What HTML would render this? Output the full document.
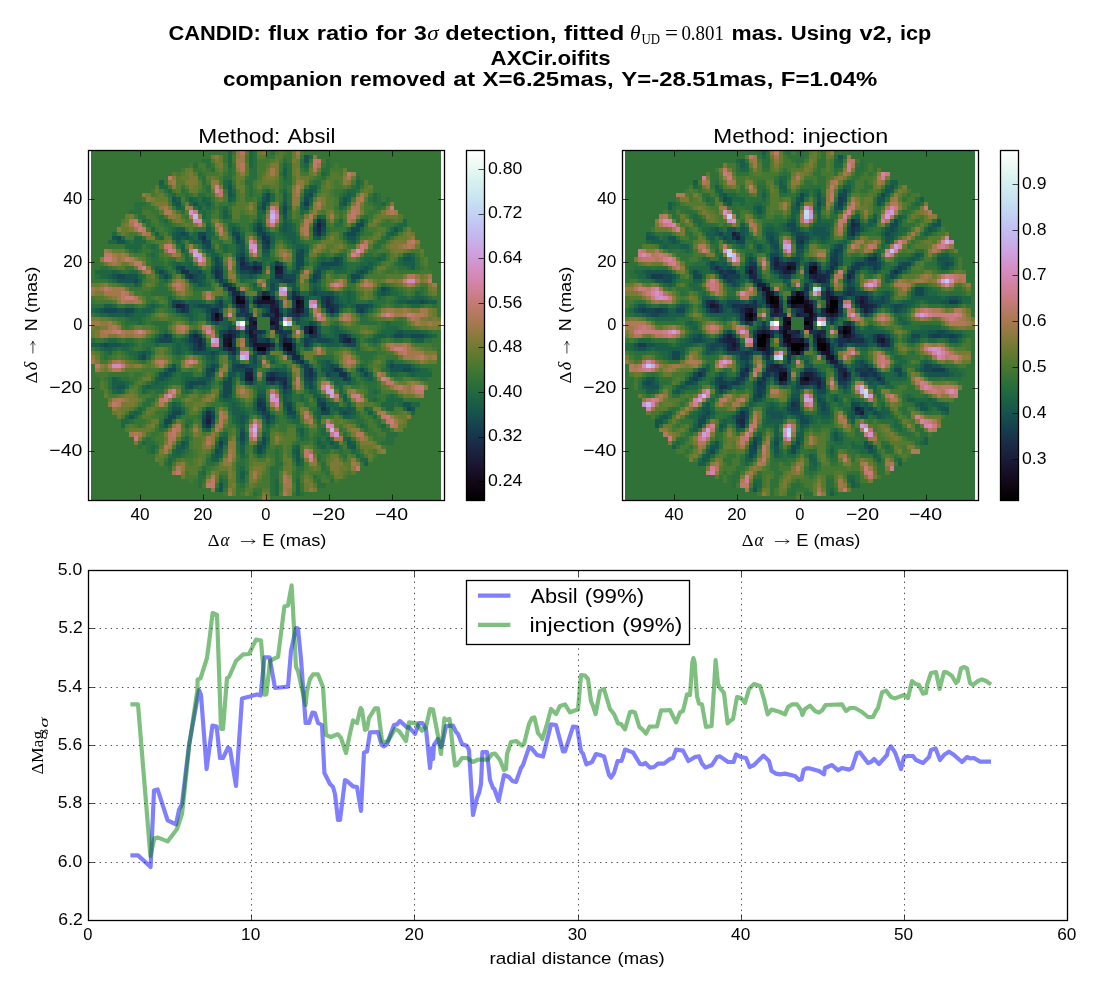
<!DOCTYPE html>
<html><head><meta charset="utf-8"><title>CANDID detection limit</title>
<style>html,body{margin:0;padding:0;background:#fff;overflow:hidden}svg{display:block;filter:opacity(1)}text{font-family:"Liberation Sans",sans-serif;fill:#000}.se{font-family:"Liberation Serif",serif}</style>
</head><body>
<svg width="1100" height="1000" viewBox="0 0 1100 1000">
<rect width="1100" height="1000" fill="#fff"/>
<!-- suptitle -->
<g id="suptitle">
<text y="39.70" font-size="20.31" font-weight="bold"><tspan x="168.43" textLength="92.35" lengthAdjust="spacingAndGlyphs">CANDID:</tspan> <tspan x="268.37" textLength="40.83" lengthAdjust="spacingAndGlyphs">flux</tspan> <tspan x="316.79" textLength="51.38" lengthAdjust="spacingAndGlyphs">ratio</tspan> <tspan x="375.75" textLength="30.70" lengthAdjust="spacingAndGlyphs">for</tspan> <tspan x="414.04" textLength="12.77" lengthAdjust="spacingAndGlyphs">3</tspan></text>
<text x="427.20" y="39.70" font-size="21.00" textLength="11.40" lengthAdjust="spacingAndGlyphs" class="se" font-style="italic">σ</text>
<text y="39.70" font-size="20.31" font-weight="bold"><tspan x="445.33" textLength="111.18" lengthAdjust="spacingAndGlyphs">detection,</tspan> <tspan x="564.10" textLength="60.19" lengthAdjust="spacingAndGlyphs">fitted</tspan></text>
<text x="630.00" y="39.70" font-size="21.50" textLength="10.50" lengthAdjust="spacingAndGlyphs" class="se" font-style="italic">θ</text>
<text x="641.40" y="43.80" font-size="14.20" textLength="18.60" lengthAdjust="spacingAndGlyphs" class="se">UD</text>
<text x="665.00" y="39.70" font-size="21.00" textLength="13.00" lengthAdjust="spacingAndGlyphs" class="se">=</text>
<text x="681.40" y="39.70" font-size="20.50" textLength="42.60" lengthAdjust="spacingAndGlyphs" class="se">0.801</text>
<text y="39.70" font-size="20.32" font-weight="bold"><tspan x="731.48" textLength="51.69" lengthAdjust="spacingAndGlyphs">mas.</tspan> <tspan x="790.76" textLength="61.17" lengthAdjust="spacingAndGlyphs">Using</tspan> <tspan x="859.51" textLength="32.89" lengthAdjust="spacingAndGlyphs">v2,</tspan> <tspan x="899.99" textLength="31.40" lengthAdjust="spacingAndGlyphs">icp</tspan></text>
<text x="490.61" y="64.60" font-size="20.31" font-weight="bold" textLength="120.02" lengthAdjust="spacingAndGlyphs">AXCir.oifits</text>
<text y="86.30" font-size="20.32" font-weight="bold"><tspan x="223.06" textLength="119.44" lengthAdjust="spacingAndGlyphs">companion</tspan> <tspan x="350.09" textLength="95.65" lengthAdjust="spacingAndGlyphs">removed</tspan> <tspan x="453.33" textLength="21.68" lengthAdjust="spacingAndGlyphs">at</tspan> <tspan x="482.60" textLength="131.18" lengthAdjust="spacingAndGlyphs">X=6.25mas,</tspan> <tspan x="621.36" textLength="151.92" lengthAdjust="spacingAndGlyphs">Y=-28.51mas,</tspan> <tspan x="780.88" textLength="96.51" lengthAdjust="spacingAndGlyphs">F=1.04%</tspan></text>
</g>
<g transform="translate(91,150.5) scale(4.26829)" shape-rendering="crispEdges" fill="none" stroke-width="1.02">
<rect x="0" y="0" width="82" height="82" fill="#357435" stroke="none"/>
<path stroke="#0a030a" d="M40 34.5h2M39 46.5h2"/>
<path stroke="#110815" d="M34 34.5h1M34 35.5h2M48 35.5h1M29 38.5h1M51 42.5h1M32 45.5h1M45 45.5h2M46 46.5h1"/>
<path stroke="#170e23" d="M48 36.5h1M29 39.5h1M38 40.5h1M42 40.5h1M51 41.5h1M32 44.5h1"/>
<path stroke="#1a142f" d="M43 27.5h1M35 34.5h1M39 35.5h4M49 35.5h1M49 36.5h1M43 37.5h1M48 37.5h1M43 38.5h1M37 42.5h1M32 43.5h1M37 43.5h1M31 44.5h1M31 45.5h1M38 45.5h4M45 46.5h1M37 53.5h1"/>
<path stroke="#1b1e3b" d="M53 17.5h1M38 27.5h1M44 27.5h1M43 28.5h2M48 34.5h1M20 36.5h1M35 36.5h1M42 36.5h1M42 37.5h1M49 37.5h1M37 39.5h1M42 39.5h2M37 40.5h1M43 40.5h1M37 41.5h2M43 41.5h1M31 43.5h1M38 43.5h1M38 44.5h1M45 44.5h1M60 44.5h1M32 46.5h1M36 52.5h2M36 53.5h1M42 53.5h1M27 63.5h1"/>
<path stroke="#1a2744" d="M53 18.5h1M35 26.5h1M39 27.5h1M32 32.5h2M33 33.5h2M40 33.5h1M39 34.5h1M42 34.5h1M47 34.5h1M38 35.5h1M55 35.5h1M21 36.5h1M34 36.5h1M43 36.5h1M55 36.5h1M47 37.5h1M56 37.5h1M28 38.5h1M30 38.5h1M48 38.5h1M28 39.5h1M30 39.5h1M50 41.5h1M52 41.5h1M32 42.5h1M50 42.5h1M52 42.5h1M24 43.5h1M33 43.5h1M25 44.5h1M37 44.5h1M46 44.5h1M59 44.5h1M25 45.5h1M42 45.5h1M33 46.5h1M38 46.5h1M41 46.5h1M40 47.5h1M46 47.5h2M47 48.5h2M41 53.5h1M45 54.5h1M27 62.5h1"/>
<path stroke="#18314a" d="M53 16.5h1M53 19.5h1M26 20.5h1M40 20.5h1M41 21.5h1M35 25.5h1M35 27.5h3M21 28.5h2M29 28.5h1M38 28.5h1M23 29.5h1M29 29.5h1M43 29.5h2M31 31.5h1M41 33.5h1M47 33.5h1M33 34.5h1M49 34.5h1M55 34.5h1M33 35.5h1M43 35.5h1M39 36.5h1M56 36.5h1M21 37.5h1M28 37.5h2M35 37.5h1M36 38.5h1M41 38.5h2M44 38.5h1M47 38.5h1M38 39.5h1M42 41.5h1M33 42.5h1M36 42.5h1M38 42.5h2M44 42.5h1M45 43.5h1M51 43.5h2M59 43.5h1M24 44.5h1M41 44.5h1M37 45.5h1M47 45.5h1M25 46.5h1M31 46.5h1M47 46.5h1M33 47.5h1M39 47.5h1M49 49.5h1M36 51.5h2M51 51.5h1M57 51.5h1M42 52.5h1M51 52.5h1M58 52.5h2M43 53.5h3M45 55.5h1M39 59.5h1M40 60.5h1M54 60.5h1M27 61.5h1M27 64.5h1"/>
<path stroke="#163d4e" d="M50 12.5h1M54 17.5h1M39 18.5h1M52 18.5h1M40 19.5h1M34 20.5h1M41 20.5h1M26 21.5h1M40 21.5h1M41 22.5h1M36 26.5h1M38 26.5h1M43 26.5h1M21 27.5h1M29 27.5h1M30 28.5h1M37 28.5h1M39 28.5h1M22 29.5h1M30 29.5h1M52 29.5h1M30 30.5h1M45 30.5h2M32 31.5h1M54 34.5h1M56 34.5h1M30 35.5h1M36 35.5h1M47 35.5h1M54 35.5h1M56 35.5h1M19 36.5h1M22 36.5h1M30 36.5h1M36 36.5h1M40 36.5h2M47 36.5h1M57 36.5h1M22 37.5h1M36 37.5h1M55 37.5h1M57 37.5h1M63 37.5h1M34 38.5h2M37 38.5h1M40 38.5h1M46 38.5h1M49 38.5h1M31 42.5h1M34 42.5h1M40 42.5h1M43 42.5h1M45 42.5h2M17 43.5h1M23 43.5h1M25 43.5h1M44 43.5h1M58 43.5h1M23 44.5h1M33 44.5h1M39 44.5h2M44 44.5h1M50 44.5h1M58 44.5h1M61 44.5h1M24 45.5h1M26 45.5h1M33 45.5h1M44 45.5h1M50 45.5h1M24 46.5h1M26 46.5h1M48 49.5h1M34 50.5h2M50 50.5h1M28 51.5h1M50 51.5h1M58 51.5h1M41 52.5h1M43 52.5h1M50 52.5h1M51 53.5h1M59 53.5h1M37 54.5h1M42 54.5h1M44 54.5h1M39 58.5h1M40 59.5h1M54 59.5h1M39 60.5h1M46 60.5h1M40 61.5h1M28 62.5h1M41 62.5h1M26 63.5h1M30 68.5h1"/>
<path stroke="#15474e" d="M41 10.5h1M51 10.5h1M41 11.5h1M50 11.5h1M40 12.5h1M40 13.5h1M45 13.5h1M45 14.5h1M54 16.5h1M39 17.5h1M52 17.5h1M62 17.5h2M54 18.5h1M61 18.5h2M21 19.5h1M25 19.5h2M33 19.5h2M39 19.5h1M52 19.5h1M60 19.5h2M6 20.5h1M25 20.5h1M27 21.5h1M34 21.5h1M27 22.5h1M40 22.5h1M49 23.5h1M35 24.5h1M48 24.5h2M29 25.5h1M34 25.5h1M48 25.5h2M57 25.5h1M29 26.5h1M39 26.5h1M44 26.5h1M48 26.5h2M54 26.5h4M20 27.5h1M30 27.5h1M48 27.5h1M16 28.5h1M25 28.5h1M28 28.5h1M35 28.5h2M53 28.5h1M63 28.5h1M6 29.5h2M17 29.5h1M24 29.5h1M45 29.5h3M53 29.5h1M61 29.5h2M10 30.5h1M24 30.5h1M44 30.5h1M47 30.5h1M52 30.5h1M42 31.5h1M42 32.5h1M68 32.5h1M48 33.5h1M52 33.5h1M38 34.5h1M19 35.5h2M77 35.5h1M25 36.5h3M29 36.5h1M54 36.5h1M62 36.5h3M3 37.5h3M8 37.5h2M20 37.5h1M27 37.5h1M41 37.5h1M44 37.5h1M46 37.5h1M50 37.5h1M62 37.5h1M50 38.5h1M36 39.5h1M44 39.5h1M48 39.5h1M29 40.5h1M51 40.5h1M32 41.5h1M36 41.5h1M44 41.5h1M30 42.5h1M18 43.5h1M30 43.5h1M34 43.5h1M36 43.5h1M39 43.5h1M53 43.5h1M60 43.5h1M71 43.5h2M75 43.5h3M16 44.5h3M26 44.5h1M51 44.5h1M53 44.5h3M3 45.5h1M60 45.5h2M42 46.5h1M28 47.5h1M32 47.5h1M12 48.5h1M38 48.5h1M38 49.5h1M28 50.5h1M33 50.5h1M36 50.5h1M56 50.5h1M70 50.5h1M18 51.5h2M27 51.5h1M33 51.5h3M56 51.5h1M63 51.5h1M73 51.5h2M17 52.5h1M27 52.5h1M44 52.5h2M52 52.5h1M55 52.5h1M64 52.5h1M32 53.5h1M50 53.5h1M60 53.5h1M23 54.5h4M31 54.5h2M36 54.5h1M41 54.5h1M51 54.5h1M23 55.5h1M31 55.5h2M46 55.5h1M51 55.5h1M31 56.5h2M45 56.5h1M31 57.5h1M40 58.5h1M53 58.5h1M46 59.5h1M53 59.5h1M55 60.5h1M74 60.5h1M19 61.5h2M28 61.5h1M41 61.5h1M46 61.5h2M54 61.5h2M59 61.5h1M18 62.5h2M26 62.5h1M17 63.5h2M28 63.5h1M41 63.5h1M26 64.5h1M35 66.5h1M35 67.5h1M40 67.5h1M40 68.5h1M30 69.5h1M39 69.5h1M29 70.5h1M39 70.5h1"/>
<path stroke="#16534c" d="M50 1.5h1M50 2.5h1M32 8.5h1M32 9.5h1M51 9.5h1M32 10.5h1M50 10.5h1M19 11.5h1M40 11.5h1M59 11.5h1M20 12.5h1M24 12.5h1M45 12.5h1M59 12.5h1M50 13.5h1M45 15.5h1M63 16.5h1M45 17.5h1M33 18.5h1M38 18.5h1M40 18.5h1M45 18.5h1M71 18.5h1M20 19.5h1M22 19.5h1M41 19.5h1M54 19.5h1M5 20.5h1M20 20.5h1M22 20.5h1M53 20.5h1M60 20.5h2M6 21.5h2M35 21.5h1M26 22.5h1M35 22.5h1M35 23.5h1M40 23.5h2M48 23.5h1M34 24.5h1M36 25.5h1M58 25.5h1M73 25.5h2M30 26.5h1M34 26.5h1M37 26.5h1M58 26.5h1M28 27.5h1M34 27.5h1M42 27.5h1M45 27.5h1M53 27.5h3M64 27.5h1M23 28.5h2M45 28.5h1M47 28.5h2M52 28.5h1M62 28.5h1M64 28.5h1M5 29.5h1M8 29.5h3M25 29.5h2M37 29.5h1M6 30.5h4M23 30.5h1M25 30.5h1M31 30.5h1M42 30.5h2M51 30.5h1M61 30.5h1M25 31.5h1M47 31.5h1M47 32.5h1M52 32.5h1M69 32.5h1M32 33.5h1M35 33.5h1M39 33.5h1M42 33.5h1M51 33.5h1M53 33.5h4M68 33.5h1M36 34.5h1M46 34.5h1M50 34.5h1M57 34.5h1M21 35.5h1M29 35.5h1M57 35.5h1M74 35.5h3M78 35.5h1M24 36.5h1M28 36.5h1M33 36.5h1M58 36.5h1M65 36.5h1M2 37.5h1M6 37.5h2M30 37.5h1M34 37.5h1M64 37.5h1M8 38.5h1M27 38.5h1M56 38.5h1M27 39.5h1M47 39.5h1M28 40.5h1M32 40.5h1M48 40.5h1M52 40.5h1M33 41.5h1M53 41.5h1M24 42.5h1M53 42.5h1M72 42.5h1M16 43.5h1M46 43.5h1M50 43.5h1M73 43.5h2M78 43.5h1M15 44.5h1M22 44.5h1M47 44.5h1M52 44.5h1M56 44.5h1M2 45.5h1M4 45.5h3M23 45.5h1M51 45.5h1M59 45.5h1M23 46.5h1M30 46.5h1M34 46.5h1M44 46.5h1M12 47.5h1M24 47.5h4M29 47.5h1M38 47.5h1M41 47.5h1M45 47.5h1M48 47.5h1M11 48.5h1M28 48.5h1M33 48.5h1M33 49.5h1M55 49.5h1M19 50.5h1M29 50.5h1M37 50.5h2M49 50.5h1M55 50.5h1M57 50.5h1M71 50.5h4M43 51.5h1M54 51.5h2M70 51.5h3M75 51.5h1M16 52.5h1M18 52.5h1M28 52.5h1M32 52.5h2M35 52.5h1M56 52.5h2M16 53.5h1M25 53.5h3M35 53.5h1M38 53.5h1M46 53.5h1M52 53.5h1M22 54.5h1M43 54.5h1M46 54.5h1M50 54.5h1M6 55.5h2M22 55.5h1M44 55.5h1M46 56.5h1M32 57.5h1M39 57.5h2M45 57.5h1M45 58.5h1M54 58.5h1M45 59.5h1M73 59.5h2M19 60.5h2M27 60.5h1M58 60.5h1M60 60.5h1M75 60.5h1M26 61.5h1M39 61.5h1M58 61.5h1M60 61.5h1M9 62.5h1M35 62.5h1M40 62.5h1M42 62.5h1M47 62.5h1M35 63.5h1M17 64.5h1M35 65.5h1M30 67.5h1M21 68.5h1M35 68.5h1M56 68.5h1M60 68.5h1M21 69.5h1M40 69.5h1M61 69.5h1M30 70.5h1M48 70.5h1M29 71.5h1M48 71.5h1M48 72.5h1M30 78.5h1M30 79.5h1"/>
<path stroke="#195d48" d="M45 4.5h1M45 5.5h1M16 7.5h1M32 7.5h1M51 8.5h2M50 9.5h1M52 9.5h1M33 10.5h1M40 10.5h1M45 10.5h1M60 10.5h1M20 11.5h1M23 11.5h1M26 11.5h1M32 11.5h1M45 11.5h1M51 11.5h1M60 11.5h1M19 12.5h1M27 12.5h1M41 12.5h1M49 12.5h1M58 12.5h1M20 13.5h1M25 13.5h1M39 13.5h1M49 13.5h1M31 14.5h1M40 14.5h1M31 15.5h1M53 15.5h1M39 16.5h1M45 16.5h1M38 17.5h1M46 17.5h1M20 18.5h2M27 18.5h1M34 18.5h1M44 18.5h1M46 18.5h1M15 19.5h1M19 19.5h1M27 19.5h1M45 19.5h3M59 19.5h1M62 19.5h1M70 19.5h1M19 20.5h1M21 20.5h1M23 20.5h1M27 20.5h1M33 20.5h1M35 20.5h1M39 20.5h1M42 20.5h1M46 20.5h2M52 20.5h1M20 21.5h1M24 21.5h2M42 21.5h1M47 21.5h1M61 21.5h1M21 22.5h1M34 22.5h1M48 22.5h2M21 23.5h1M27 23.5h2M34 23.5h1M50 23.5h1M28 24.5h2M40 24.5h2M74 24.5h1M28 25.5h1M30 25.5h1M54 25.5h1M56 25.5h1M67 25.5h1M75 25.5h1M20 26.5h1M23 26.5h1M42 26.5h1M53 26.5h1M65 26.5h1M73 26.5h3M15 27.5h1M22 27.5h3M49 27.5h1M56 27.5h3M63 27.5h1M65 27.5h1M75 27.5h1M5 28.5h1M15 28.5h1M17 28.5h1M20 28.5h1M34 28.5h1M42 28.5h1M4 29.5h1M16 29.5h1M18 29.5h1M28 29.5h1M35 29.5h2M38 29.5h1M42 29.5h1M63 29.5h1M11 30.5h1M26 30.5h1M29 30.5h1M53 30.5h1M10 31.5h1M26 31.5h1M30 31.5h1M33 31.5h1M38 31.5h1M43 31.5h1M46 31.5h1M52 31.5h1M31 32.5h1M43 32.5h1M48 32.5h1M53 32.5h1M46 33.5h1M60 33.5h1M67 33.5h1M69 33.5h1M53 34.5h1M60 34.5h1M76 34.5h2M23 35.5h3M44 35.5h1M50 35.5h1M58 35.5h1M60 35.5h1M72 35.5h2M79 35.5h2M3 36.5h2M14 36.5h1M23 36.5h1M31 36.5h1M38 36.5h1M44 36.5h1M50 36.5h1M59 36.5h1M61 36.5h1M1 37.5h1M10 37.5h1M12 37.5h2M23 37.5h1M26 37.5h1M40 37.5h1M4 38.5h4M9 38.5h1M22 38.5h2M45 38.5h1M23 39.5h1M31 39.5h1M49 39.5h1M30 40.5h2M49 40.5h2M31 41.5h1M49 41.5h1M57 41.5h1M35 42.5h1M57 42.5h2M71 42.5h1M73 42.5h4M40 43.5h1M54 43.5h1M57 43.5h1M67 43.5h2M70 43.5h1M79 43.5h1M19 44.5h1M21 44.5h1M30 44.5h1M36 44.5h1M42 44.5h1M49 44.5h1M57 44.5h1M66 44.5h1M76 44.5h2M0 45.5h2M7 45.5h2M20 45.5h1M22 45.5h1M30 45.5h1M36 45.5h1M55 45.5h3M3 46.5h2M20 46.5h1M27 46.5h1M11 47.5h1M13 47.5h1M20 47.5h1M34 47.5h1M27 48.5h1M32 48.5h1M37 48.5h1M49 48.5h1M28 49.5h1M34 49.5h1M37 49.5h1M42 49.5h1M47 49.5h1M50 49.5h1M54 49.5h1M70 49.5h1M27 50.5h1M51 50.5h1M54 50.5h1M69 50.5h1M17 51.5h1M38 51.5h1M42 51.5h1M44 51.5h2M52 51.5h1M62 51.5h1M64 51.5h1M76 51.5h1M38 52.5h1M46 52.5h1M60 52.5h1M63 52.5h1M65 52.5h1M75 52.5h1M5 53.5h1M15 53.5h1M17 53.5h1M22 53.5h3M31 53.5h1M56 53.5h3M65 53.5h1M5 54.5h3M15 54.5h1M27 54.5h1M38 54.5h1M57 54.5h1M60 54.5h1M5 55.5h1M13 55.5h1M24 55.5h1M26 55.5h1M50 55.5h1M52 55.5h1M6 56.5h1M39 56.5h2M51 56.5h2M30 57.5h1M46 57.5h1M52 57.5h2M59 57.5h1M31 58.5h2M46 58.5h1M59 58.5h1M19 59.5h1M33 59.5h1M38 59.5h1M55 59.5h2M60 59.5h1M28 60.5h1M33 60.5h2M38 60.5h1M41 60.5h1M45 60.5h1M47 60.5h1M53 60.5h1M57 60.5h1M59 60.5h1M61 60.5h1M10 61.5h1M18 61.5h1M21 61.5h1M33 61.5h3M53 61.5h1M61 61.5h1M65 61.5h1M34 62.5h1M36 62.5h1M46 62.5h1M53 62.5h1M59 62.5h2M34 63.5h1M42 63.5h1M35 64.5h1M41 64.5h1M27 65.5h1M49 65.5h1M40 66.5h1M49 66.5h1M31 67.5h1M41 67.5h1M55 67.5h1M60 67.5h1M22 68.5h1M31 68.5h1M39 68.5h1M53 68.5h1M61 68.5h1M20 69.5h1M29 69.5h1M35 69.5h1M48 69.5h1M54 69.5h1M57 69.5h1M60 69.5h1M20 70.5h1M35 70.5h1M40 70.5h1M47 70.5h1M28 71.5h1M30 71.5h1M28 72.5h2M48 73.5h1M64 73.5h1M35 75.5h1M35 76.5h1"/>
<path stroke="#1e6542" d="M32 0.5h1M37 0.5h1M32 1.5h1M37 1.5h1M51 1.5h1M32 2.5h1M37 2.5h1M32 3.5h1M37 3.5h1M45 3.5h1M50 3.5h1M54 5.5h1M45 6.5h1M31 7.5h1M62 7.5h1M16 8.5h2M31 8.5h1M62 8.5h1M18 9.5h1M33 9.5h1M41 9.5h1M45 9.5h1M60 9.5h2M19 10.5h1M42 10.5h1M59 10.5h1M61 10.5h1M66 10.5h1M24 11.5h1M27 11.5h1M33 11.5h1M42 11.5h1M58 11.5h1M66 11.5h1M23 12.5h1M25 12.5h2M39 12.5h1M51 12.5h1M68 12.5h1M21 13.5h1M27 13.5h1M31 13.5h1M44 13.5h1M46 13.5h1M58 13.5h1M26 14.5h1M39 14.5h1M44 14.5h1M49 14.5h1M26 15.5h1M32 15.5h1M39 15.5h1M54 15.5h1M12 16.5h1M17 16.5h1M46 16.5h1M52 16.5h1M58 16.5h1M64 16.5h1M73 16.5h1M27 17.5h1M32 17.5h2M40 17.5h1M44 17.5h1M47 17.5h1M72 17.5h2M14 18.5h1M19 18.5h1M32 18.5h1M47 18.5h1M60 18.5h1M63 18.5h1M70 18.5h1M72 18.5h1M5 19.5h1M24 19.5h1M28 19.5h1M35 19.5h1M42 19.5h1M44 19.5h1M69 19.5h1M71 19.5h1M7 20.5h1M10 20.5h2M16 20.5h1M24 20.5h1M45 20.5h1M48 20.5h1M59 20.5h1M62 20.5h1M69 20.5h1M4 21.5h2M8 21.5h1M10 21.5h3M23 21.5h1M33 21.5h1M46 21.5h1M48 21.5h1M60 21.5h1M8 22.5h4M14 22.5h1M31 22.5h1M42 22.5h1M47 22.5h1M50 22.5h1M10 23.5h1M31 23.5h1M14 24.5h1M22 24.5h1M36 24.5h1M50 24.5h1M58 24.5h1M68 24.5h1M73 24.5h1M75 24.5h1M22 25.5h1M40 25.5h2M53 25.5h1M55 25.5h1M64 25.5h3M68 25.5h1M72 25.5h1M19 26.5h1M21 26.5h2M28 26.5h1M40 26.5h1M47 26.5h1M50 26.5h1M59 26.5h1M63 26.5h2M66 26.5h1M72 26.5h1M16 27.5h1M19 27.5h1M40 27.5h1M47 27.5h1M52 27.5h1M59 27.5h1M62 27.5h1M74 27.5h1M1 28.5h4M6 28.5h1M9 28.5h2M26 28.5h1M46 28.5h1M54 28.5h1M57 28.5h3M61 28.5h1M2 29.5h2M11 29.5h1M48 29.5h1M51 29.5h1M60 29.5h1M5 30.5h1M17 30.5h1M35 30.5h1M41 30.5h1M11 31.5h1M24 31.5h1M27 31.5h1M41 31.5h1M51 31.5h1M53 31.5h1M34 32.5h1M38 32.5h2M51 32.5h1M67 32.5h1M70 32.5h1M49 33.5h2M57 33.5h1M59 33.5h1M61 33.5h1M70 33.5h2M76 33.5h1M18 34.5h1M30 34.5h1M32 34.5h1M43 34.5h1M51 34.5h2M58 34.5h2M61 34.5h1M67 34.5h1M72 34.5h2M75 34.5h1M78 34.5h1M18 35.5h1M22 35.5h1M26 35.5h1M31 35.5h2M37 35.5h1M59 35.5h1M61 35.5h1M65 35.5h1M71 35.5h1M5 36.5h1M13 36.5h1M15 36.5h1M18 36.5h1M60 36.5h1M66 36.5h1M75 36.5h2M0 37.5h1M11 37.5h1M14 37.5h1M19 37.5h1M24 37.5h2M45 37.5h1M58 37.5h1M65 37.5h1M2 38.5h2M10 38.5h3M21 38.5h1M24 38.5h1M57 38.5h1M63 38.5h1M9 39.5h3M24 39.5h1M50 39.5h1M11 40.5h1M69 40.5h1M30 41.5h1M56 41.5h1M69 41.5h3M17 42.5h1M23 42.5h1M56 42.5h1M59 42.5h1M68 42.5h3M77 42.5h2M15 43.5h1M22 43.5h1M35 43.5h1M55 43.5h2M61 43.5h1M66 43.5h1M69 43.5h1M80 43.5h1M4 44.5h2M14 44.5h1M20 44.5h1M62 44.5h1M65 44.5h1M67 44.5h1M75 44.5h1M9 45.5h1M15 45.5h1M19 45.5h1M21 45.5h1M43 45.5h1M48 45.5h2M54 45.5h1M58 45.5h1M62 45.5h1M2 46.5h1M5 46.5h1M7 46.5h2M13 46.5h1M19 46.5h1M21 46.5h2M28 46.5h2M37 46.5h1M48 46.5h1M50 46.5h1M62 46.5h1M4 47.5h1M9 47.5h2M19 47.5h1M21 47.5h1M23 47.5h1M30 47.5h2M10 48.5h1M13 48.5h1M29 48.5h1M41 48.5h2M46 48.5h1M27 49.5h1M29 49.5h1M39 49.5h1M53 49.5h1M56 49.5h1M69 49.5h1M39 50.5h1M45 50.5h1M63 50.5h1M75 50.5h1M20 51.5h1M29 51.5h1M32 51.5h1M69 51.5h1M77 51.5h2M19 52.5h1M21 52.5h3M26 52.5h1M34 52.5h1M54 52.5h1M70 52.5h2M74 52.5h1M76 52.5h4M6 53.5h1M18 53.5h1M21 53.5h1M28 53.5h1M33 53.5h1M40 53.5h1M61 53.5h1M64 53.5h1M8 54.5h1M14 54.5h1M16 54.5h2M21 54.5h1M30 54.5h1M33 54.5h1M40 54.5h1M52 54.5h1M58 54.5h2M61 54.5h1M8 55.5h1M12 55.5h1M14 55.5h3M25 55.5h1M27 55.5h1M39 55.5h2M58 55.5h1M5 56.5h1M7 56.5h1M12 56.5h1M22 56.5h1M30 56.5h1M44 56.5h1M58 56.5h1M66 56.5h1M49 57.5h1M70 57.5h1M30 58.5h1M33 58.5h1M38 58.5h1M49 58.5h1M66 58.5h1M69 58.5h4M20 59.5h1M32 59.5h1M34 59.5h1M47 59.5h1M57 59.5h1M68 59.5h3M72 59.5h1M75 59.5h2M11 60.5h1M18 60.5h1M21 60.5h1M32 60.5h1M35 60.5h1M56 60.5h1M64 60.5h1M69 60.5h2M73 60.5h1M9 61.5h1M11 61.5h1M36 61.5h1M38 61.5h1M45 61.5h1M52 61.5h1M56 61.5h1M75 61.5h1M8 62.5h1M10 62.5h1M17 62.5h1M20 62.5h1M33 62.5h1M48 62.5h1M61 62.5h1M66 62.5h1M7 63.5h2M33 63.5h1M36 63.5h1M40 63.5h1M47 63.5h2M53 63.5h1M7 64.5h1M16 64.5h1M22 64.5h1M28 64.5h1M34 64.5h1M63 64.5h1M68 64.5h1M26 65.5h1M41 65.5h1M48 65.5h1M54 65.5h1M31 66.5h1M36 66.5h1M41 66.5h1M54 66.5h1M22 67.5h1M34 67.5h1M36 67.5h1M49 67.5h1M53 67.5h1M59 67.5h1M12 68.5h1M29 68.5h1M41 68.5h1M54 68.5h2M57 68.5h1M14 69.5h1M22 69.5h1M38 69.5h1M47 69.5h1M53 69.5h1M56 69.5h1M14 70.5h1M19 70.5h1M21 70.5h1M38 70.5h1M61 70.5h1M19 71.5h2M35 71.5h1M39 71.5h1M47 71.5h1M62 71.5h1M18 72.5h1M49 72.5h1M63 72.5h2M18 73.5h1M49 73.5h1M35 74.5h1M26 75.5h1M30 77.5h1M35 77.5h1M43 77.5h1M48 77.5h1M43 78.5h1M48 78.5h1M29 79.5h1M43 79.5h1M48 79.5h1M43 80.5h1M48 80.5h1"/>
<path stroke="#286d3b" d="M38 0.5h1M42 0.5h1M38 1.5h1M26 2.5h2M38 2.5h1M45 2.5h1M49 2.5h1M55 2.5h1M24 3.5h1M27 3.5h1M38 3.5h1M46 3.5h1M49 3.5h1M55 3.5h1M28 4.5h1M32 4.5h1M37 4.5h2M46 4.5h1M50 4.5h1M54 4.5h2M25 5.5h1M32 5.5h1M37 5.5h2M44 5.5h1M46 5.5h1M55 5.5h1M26 6.5h1M31 6.5h2M37 6.5h2M46 6.5h1M54 6.5h1M62 6.5h1M26 7.5h1M36 7.5h2M45 7.5h2M52 7.5h2M63 7.5h1M27 8.5h1M33 8.5h1M37 8.5h1M45 8.5h1M53 8.5h1M61 8.5h1M17 9.5h1M21 9.5h1M27 9.5h1M37 9.5h1M40 9.5h1M44 9.5h1M59 9.5h1M62 9.5h1M18 10.5h1M22 10.5h1M25 10.5h2M37 10.5h1M46 10.5h1M52 10.5h1M58 10.5h1M67 10.5h1M22 11.5h1M25 11.5h1M39 11.5h1M46 11.5h1M49 11.5h1M65 11.5h1M67 11.5h1M69 11.5h1M10 12.5h3M28 12.5h1M32 12.5h1M44 12.5h1M46 12.5h1M60 12.5h1M66 12.5h2M10 13.5h2M24 13.5h1M26 13.5h1M28 13.5h1M30 13.5h1M59 13.5h1M67 13.5h1M9 14.5h3M21 14.5h1M25 14.5h1M27 14.5h1M30 14.5h1M32 14.5h1M46 14.5h1M50 14.5h1M11 15.5h2M16 15.5h1M27 15.5h1M30 15.5h1M40 15.5h1M46 15.5h1M64 15.5h1M13 16.5h1M16 16.5h1M27 16.5h1M31 16.5h2M38 16.5h1M40 16.5h1M62 16.5h1M13 17.5h1M17 17.5h2M34 17.5h1M37 17.5h1M57 17.5h2M61 17.5h1M64 17.5h1M71 17.5h1M18 18.5h1M28 18.5h1M35 18.5h1M37 18.5h1M41 18.5h1M55 18.5h1M18 19.5h1M23 19.5h1M32 19.5h1M38 19.5h1M43 19.5h1M48 19.5h1M63 19.5h1M15 20.5h1M28 20.5h2M43 20.5h2M54 20.5h1M68 20.5h1M9 21.5h1M21 21.5h1M30 21.5h1M39 21.5h1M45 21.5h1M49 21.5h1M62 21.5h1M67 21.5h2M13 22.5h1M15 22.5h1M20 22.5h1M25 22.5h1M28 22.5h1M30 22.5h1M32 22.5h2M46 22.5h1M66 22.5h2M9 23.5h1M11 23.5h1M14 23.5h2M22 23.5h1M26 23.5h1M32 23.5h2M36 23.5h1M47 23.5h1M13 24.5h1M15 24.5h1M27 24.5h1M30 24.5h1M33 24.5h1M47 24.5h1M54 24.5h1M57 24.5h1M59 24.5h1M64 24.5h2M67 24.5h1M14 25.5h2M23 25.5h1M37 25.5h1M39 25.5h1M42 25.5h1M47 25.5h1M50 25.5h1M59 25.5h1M63 25.5h1M76 25.5h1M14 26.5h3M18 26.5h1M41 26.5h1M45 26.5h1M52 26.5h1M60 26.5h3M67 26.5h1M71 26.5h1M76 26.5h1M2 27.5h2M14 27.5h1M17 27.5h1M25 27.5h1M60 27.5h2M72 27.5h2M76 27.5h1M7 28.5h2M18 28.5h1M27 28.5h1M31 28.5h1M40 28.5h1M60 28.5h1M65 28.5h1M1 29.5h1M12 29.5h1M21 29.5h1M27 29.5h1M31 29.5h1M34 29.5h1M39 29.5h1M54 29.5h1M4 30.5h1M16 30.5h1M27 30.5h1M36 30.5h2M48 30.5h1M60 30.5h1M62 30.5h1M8 31.5h2M16 31.5h1M37 31.5h1M48 31.5h1M68 31.5h1M15 32.5h3M24 32.5h4M41 32.5h1M54 32.5h1M60 32.5h1M71 32.5h1M77 32.5h1M14 33.5h5M58 33.5h1M66 33.5h1M72 33.5h1M77 33.5h1M19 34.5h1M29 34.5h1M37 34.5h1M68 34.5h1M71 34.5h1M74 34.5h1M79 34.5h1M14 35.5h1M28 35.5h1M53 35.5h1M62 35.5h3M66 35.5h3M70 35.5h1M0 36.5h3M8 36.5h2M16 36.5h1M67 36.5h1M71 36.5h2M74 36.5h1M77 36.5h1M80 36.5h1M18 37.5h1M37 37.5h1M54 37.5h1M61 37.5h1M1 38.5h1M13 38.5h1M20 38.5h1M25 38.5h2M39 38.5h1M51 38.5h1M55 38.5h1M64 38.5h1M8 39.5h1M12 39.5h1M22 39.5h1M25 39.5h2M34 39.5h1M51 39.5h1M63 39.5h2M8 40.5h3M12 40.5h1M14 40.5h4M23 40.5h1M27 40.5h1M53 40.5h1M57 40.5h1M63 40.5h4M68 40.5h1M70 40.5h3M16 41.5h2M29 41.5h1M46 41.5h1M54 41.5h2M58 41.5h1M68 41.5h1M72 41.5h1M16 42.5h1M25 42.5h1M29 42.5h1M41 42.5h1M54 42.5h2M60 42.5h1M67 42.5h1M79 42.5h1M19 43.5h1M26 43.5h1M43 43.5h1M62 43.5h1M0 44.5h1M3 44.5h1M6 44.5h1M8 44.5h2M13 44.5h1M64 44.5h1M71 44.5h2M78 44.5h2M10 45.5h1M12 45.5h3M16 45.5h3M27 45.5h1M52 45.5h1M66 45.5h1M1 46.5h1M6 46.5h1M9 46.5h1M12 46.5h1M43 46.5h1M51 46.5h1M61 46.5h1M3 47.5h1M8 47.5h1M14 47.5h1M22 47.5h1M62 47.5h5M3 48.5h1M9 48.5h1M20 48.5h1M26 48.5h1M39 48.5h1M53 48.5h4M63 48.5h3M12 49.5h1M32 49.5h1M43 49.5h1M64 49.5h1M71 49.5h2M18 50.5h1M20 50.5h1M32 50.5h1M43 50.5h2M53 50.5h1M64 50.5h1M76 50.5h1M26 51.5h1M41 51.5h1M46 51.5h1M49 51.5h1M53 51.5h1M59 51.5h1M68 51.5h1M79 51.5h1M15 52.5h1M20 52.5h1M40 52.5h1M49 52.5h1M53 52.5h1M62 52.5h1M72 52.5h2M4 53.5h1M7 53.5h2M19 53.5h2M55 53.5h1M63 53.5h1M66 53.5h1M77 53.5h2M4 54.5h1M9 54.5h1M13 54.5h1M18 54.5h3M28 54.5h1M35 54.5h1M39 54.5h1M62 54.5h1M64 54.5h3M4 55.5h1M17 55.5h1M21 55.5h1M30 55.5h1M33 55.5h1M38 55.5h1M41 55.5h1M43 55.5h1M57 55.5h1M65 55.5h2M13 56.5h1M15 56.5h2M21 56.5h1M23 56.5h1M26 56.5h1M33 56.5h1M47 56.5h1M50 56.5h1M53 56.5h1M65 56.5h1M67 56.5h1M33 57.5h1M44 57.5h1M47 57.5h2M54 57.5h1M58 57.5h1M65 57.5h2M69 57.5h1M71 57.5h1M13 58.5h2M34 58.5h1M47 58.5h2M50 58.5h1M52 58.5h1M55 58.5h1M60 58.5h1M65 58.5h1M67 58.5h1M12 59.5h2M18 59.5h1M31 59.5h1M35 59.5h1M41 59.5h1M50 59.5h1M59 59.5h1M71 59.5h1M12 60.5h1M26 60.5h1M36 60.5h2M51 60.5h2M65 60.5h1M17 61.5h1M32 61.5h1M37 61.5h1M42 61.5h1M48 61.5h1M57 61.5h1M62 61.5h1M25 62.5h1M39 62.5h1M43 62.5h1M45 62.5h1M52 62.5h1M62 62.5h1M9 63.5h1M16 63.5h1M19 63.5h1M22 63.5h2M43 63.5h1M46 63.5h1M62 63.5h2M67 63.5h1M18 64.5h1M40 64.5h1M42 64.5h1M48 64.5h2M53 64.5h1M64 64.5h1M67 64.5h1M16 65.5h1M34 65.5h1M40 65.5h1M50 65.5h1M53 65.5h1M64 65.5h1M68 65.5h2M30 66.5h1M34 66.5h1M48 66.5h1M50 66.5h1M53 66.5h1M55 66.5h1M59 66.5h1M69 66.5h3M13 67.5h1M21 67.5h1M50 67.5h1M52 67.5h1M54 67.5h1M56 67.5h1M69 67.5h2M13 68.5h2M20 68.5h1M34 68.5h1M36 68.5h1M48 68.5h1M52 68.5h1M68 68.5h3M11 69.5h1M13 69.5h1M15 69.5h1M31 69.5h1M34 69.5h1M41 69.5h1M55 69.5h1M58 69.5h1M13 70.5h1M22 70.5h1M28 70.5h1M34 70.5h1M43 70.5h1M54 70.5h2M58 70.5h1M62 70.5h1M18 71.5h1M21 71.5h1M36 71.5h1M40 71.5h1M43 71.5h1M53 71.5h1M59 71.5h1M63 71.5h1M19 72.5h1M27 72.5h1M35 72.5h1M43 72.5h1M47 72.5h1M53 72.5h1M17 73.5h1M27 73.5h2M34 73.5h2M43 73.5h2M54 73.5h1M18 74.5h1M26 74.5h1M34 74.5h1M42 74.5h2M48 74.5h2M54 74.5h1M25 75.5h1M34 75.5h1M36 75.5h1M42 75.5h2M48 75.5h1M55 75.5h1M25 76.5h2M30 76.5h1M34 76.5h1M42 76.5h2M48 76.5h1M52 76.5h1M25 77.5h1M31 77.5h1M34 77.5h1M42 77.5h1M53 77.5h1M56 77.5h1M25 78.5h1M31 78.5h1M35 78.5h1M42 78.5h1M53 78.5h2M42 79.5h1M38 80.5h1M42 80.5h1M49 80.5h1"/>
<path stroke="#447731" d="M43 0.5h1M45 0.5h1M49 0.5h1M33 1.5h1M36 1.5h1M33 2.5h1M36 2.5h1M39 2.5h3M44 2.5h1M54 2.5h1M23 3.5h1M25 3.5h2M31 3.5h1M39 3.5h2M57 3.5h1M21 4.5h1M26 4.5h1M31 4.5h1M39 4.5h2M56 4.5h3M20 5.5h1M27 5.5h3M39 5.5h1M49 5.5h2M53 5.5h1M58 5.5h1M30 6.5h1M33 6.5h1M39 6.5h1M52 6.5h1M55 6.5h1M27 7.5h1M30 7.5h1M38 7.5h1M54 7.5h1M57 7.5h1M61 7.5h1M18 8.5h1M38 8.5h1M40 8.5h2M57 8.5h2M60 8.5h1M14 9.5h1M16 9.5h1M19 9.5h1M25 9.5h1M34 9.5h1M39 9.5h1M56 9.5h1M14 10.5h1M17 10.5h1M24 10.5h1M28 10.5h1M31 10.5h1M34 10.5h1M43 10.5h1M56 10.5h1M12 11.5h1M21 11.5h1M31 11.5h1M34 11.5h1M38 11.5h1M43 11.5h1M57 11.5h1M61 11.5h1M18 12.5h1M29 12.5h1M57 12.5h1M64 12.5h1M64 13.5h2M12 14.5h2M20 14.5h1M29 14.5h1M35 14.5h1M48 14.5h1M54 14.5h1M57 14.5h1M59 14.5h1M64 14.5h1M67 14.5h1M10 15.5h1M13 15.5h2M17 15.5h1M21 15.5h1M28 15.5h2M37 15.5h2M48 15.5h1M11 16.5h1M14 16.5h2M22 16.5h1M30 16.5h1M33 16.5h2M37 16.5h1M55 16.5h1M59 16.5h1M65 16.5h1M68 16.5h1M70 16.5h1M72 16.5h1M15 17.5h1M20 17.5h1M28 17.5h1M31 17.5h1M56 17.5h1M59 17.5h1M67 17.5h1M13 18.5h1M16 18.5h1M65 18.5h2M73 18.5h1M6 19.5h1M9 19.5h2M17 19.5h1M36 19.5h2M51 19.5h1M68 19.5h1M72 19.5h1M8 20.5h2M32 20.5h1M51 20.5h1M63 20.5h2M14 21.5h1M22 21.5h1M31 21.5h2M44 21.5h1M53 21.5h1M66 21.5h1M69 21.5h1M24 22.5h1M39 22.5h1M45 22.5h1M68 22.5h1M8 23.5h1M55 23.5h1M58 23.5h1M67 23.5h3M75 23.5h2M10 24.5h3M16 24.5h1M31 24.5h1M56 24.5h1M72 24.5h1M17 25.5h1M21 25.5h1M51 25.5h1M62 25.5h1M71 25.5h1M77 25.5h1M2 26.5h1M24 26.5h1M68 26.5h1M70 26.5h1M77 26.5h1M5 27.5h1M50 27.5h1M69 27.5h1M78 27.5h1M49 28.5h1M66 28.5h1M68 28.5h1M71 28.5h1M77 28.5h3M19 29.5h1M41 29.5h1M56 29.5h1M58 29.5h2M65 29.5h4M13 30.5h1M15 30.5h1M22 30.5h1M32 30.5h1M34 30.5h1M50 30.5h1M6 31.5h1M12 31.5h1M28 31.5h1M36 31.5h1M45 31.5h1M67 31.5h1M70 31.5h1M77 31.5h2M12 32.5h2M18 32.5h1M23 32.5h1M46 32.5h1M55 32.5h1M66 32.5h1M73 32.5h1M75 32.5h1M10 33.5h2M19 33.5h1M31 33.5h1M43 33.5h1M63 33.5h1M74 33.5h1M0 34.5h1M14 34.5h1M16 34.5h1M20 34.5h1M22 34.5h1M1 35.5h4M17 35.5h1M11 36.5h1M32 36.5h1M37 36.5h1M53 36.5h1M69 36.5h1M16 37.5h1M51 37.5h1M60 37.5h1M14 38.5h1M18 38.5h1M65 38.5h1M5 39.5h1M14 39.5h2M18 39.5h3M56 39.5h1M66 39.5h1M71 39.5h1M73 39.5h1M22 40.5h1M58 40.5h1M7 41.5h1M9 41.5h1M14 41.5h1M24 41.5h1M60 41.5h3M65 41.5h2M75 41.5h1M15 42.5h1M62 42.5h1M66 42.5h1M20 43.5h1M29 43.5h1M64 43.5h1M11 44.5h1M27 44.5h1M43 44.5h1M48 44.5h1M69 44.5h1M63 45.5h1M76 45.5h4M58 46.5h1M60 46.5h1M64 46.5h1M66 46.5h1M80 46.5h1M6 47.5h1M17 47.5h1M37 47.5h1M49 47.5h1M61 47.5h1M69 47.5h2M5 48.5h1M7 48.5h1M14 48.5h1M25 48.5h1M34 48.5h1M57 48.5h1M62 48.5h1M67 48.5h2M2 49.5h2M10 49.5h1M13 49.5h1M35 49.5h1M44 49.5h1M52 49.5h1M68 49.5h1M74 49.5h1M30 50.5h1M46 50.5h1M48 50.5h1M58 50.5h1M65 50.5h1M67 50.5h1M12 51.5h4M21 51.5h2M24 51.5h1M39 51.5h1M61 51.5h1M1 52.5h3M9 52.5h1M12 52.5h1M14 52.5h1M31 52.5h1M2 53.5h1M11 53.5h1M30 53.5h1M75 53.5h1M3 54.5h1M10 54.5h1M12 54.5h1M56 54.5h1M78 54.5h1M3 55.5h1M9 55.5h1M18 55.5h1M29 55.5h1M59 55.5h1M63 55.5h1M8 56.5h1M24 56.5h1M49 56.5h1M64 56.5h1M68 56.5h3M4 57.5h2M11 57.5h3M22 57.5h1M25 57.5h1M72 57.5h1M12 58.5h1M35 58.5h1M41 58.5h1M56 58.5h1M11 59.5h1M14 59.5h1M27 59.5h1M36 59.5h1M48 59.5h2M58 59.5h1M66 59.5h1M16 60.5h2M29 60.5h1M48 60.5h1M71 60.5h2M8 61.5h1M12 61.5h1M29 61.5h1M43 61.5h2M63 61.5h1M70 61.5h2M74 61.5h1M7 62.5h1M14 62.5h2M64 62.5h1M67 62.5h1M13 63.5h1M21 63.5h1M24 63.5h1M49 63.5h1M52 63.5h1M60 63.5h1M65 63.5h1M8 64.5h1M10 64.5h1M12 64.5h1M15 64.5h1M21 64.5h1M25 64.5h1M43 64.5h1M46 64.5h2M50 64.5h1M58 64.5h1M65 64.5h2M69 64.5h1M32 65.5h1M42 65.5h2M51 65.5h2M59 65.5h1M63 65.5h1M66 65.5h2M70 65.5h1M13 66.5h1M16 66.5h1M21 66.5h1M23 66.5h1M26 66.5h1M32 66.5h1M45 66.5h1M51 66.5h1M60 66.5h1M67 66.5h2M15 67.5h2M16 68.5h1M23 68.5h1M51 68.5h1M62 68.5h1M19 69.5h1M23 69.5h1M37 69.5h1M42 69.5h1M46 69.5h1M49 69.5h1M59 69.5h1M68 69.5h1M24 70.5h1M37 70.5h1M46 70.5h1M49 70.5h1M52 70.5h1M56 70.5h1M63 70.5h1M66 70.5h1M24 71.5h1M41 71.5h1M46 71.5h1M55 71.5h1M61 71.5h1M64 71.5h1M66 71.5h1M20 72.5h1M22 72.5h2M39 72.5h2M42 72.5h1M62 72.5h1M19 73.5h1M23 73.5h1M26 73.5h1M42 73.5h1M50 73.5h1M53 73.5h1M25 74.5h1M28 74.5h1M41 74.5h1M47 74.5h1M50 74.5h1M22 75.5h1M27 75.5h1M30 75.5h2M41 75.5h1M51 75.5h3M60 75.5h1M22 76.5h3M40 76.5h2M49 76.5h1M54 76.5h1M59 76.5h1M23 77.5h1M40 77.5h2M49 77.5h1M54 77.5h2M57 77.5h1M26 78.5h1M36 78.5h1M39 78.5h3M44 78.5h1M47 78.5h1M44 79.5h1M47 79.5h1M31 80.5h1M35 80.5h1M37 80.5h1M39 81.5h1"/>
<path stroke="#54792f" d="M36 0.5h1M44 0.5h1M39 1.5h2M43 1.5h2M28 2.5h1M42 2.5h1M36 3.5h1M41 3.5h1M51 3.5h1M29 4.5h1M36 4.5h1M19 5.5h1M21 5.5h1M24 5.5h1M30 5.5h1M36 5.5h1M40 5.5h1M56 5.5h2M20 6.5h1M27 6.5h1M29 6.5h1M47 6.5h1M51 6.5h1M56 6.5h3M20 7.5h2M25 7.5h1M35 7.5h1M39 7.5h1M43 7.5h1M47 7.5h1M56 7.5h1M58 7.5h1M64 7.5h1M15 8.5h1M20 8.5h1M22 8.5h1M25 8.5h1M42 8.5h2M54 8.5h1M56 8.5h1M59 8.5h1M64 8.5h1M20 9.5h1M43 9.5h1M49 9.5h1M54 9.5h2M63 9.5h1M65 9.5h1M15 10.5h1M35 10.5h1M53 10.5h1M55 10.5h1M29 11.5h1M35 11.5h1M52 11.5h1M55 11.5h2M64 11.5h1M34 12.5h3M38 12.5h1M55 12.5h2M15 13.5h1M33 13.5h3M38 13.5h1M48 13.5h1M55 13.5h2M60 13.5h1M16 14.5h1M22 14.5h1M33 14.5h2M36 14.5h1M38 14.5h1M47 14.5h1M53 14.5h1M33 15.5h2M47 15.5h1M52 15.5h1M57 15.5h1M59 15.5h1M66 15.5h1M72 15.5h1M7 16.5h1M23 16.5h1M49 16.5h1M71 16.5h1M12 17.5h1M21 17.5h1M23 17.5h1M51 17.5h1M23 18.5h1M31 18.5h1M42 18.5h1M67 18.5h2M8 19.5h1M29 19.5h1M56 19.5h2M66 19.5h1M17 20.5h2M36 20.5h1M38 20.5h1M49 20.5h1M55 20.5h1M57 20.5h1M65 20.5h1M67 20.5h1M71 20.5h1M15 21.5h2M36 21.5h1M57 21.5h2M22 22.5h1M29 22.5h1M43 22.5h1M55 22.5h2M59 22.5h1M65 22.5h1M39 23.5h1M51 23.5h1M54 23.5h1M60 23.5h1M74 23.5h1M9 24.5h1M17 24.5h1M23 24.5h1M32 24.5h1M39 24.5h1M63 24.5h1M70 24.5h1M77 24.5h1M12 25.5h1M20 25.5h1M27 25.5h1M33 25.5h1M44 25.5h1M60 25.5h1M70 25.5h1M78 25.5h1M27 26.5h1M31 26.5h1M46 26.5h1M69 26.5h1M78 26.5h1M6 27.5h2M26 27.5h1M33 27.5h1M51 27.5h1M14 28.5h1M51 28.5h1M67 28.5h1M13 29.5h1M69 29.5h4M14 30.5h1M55 30.5h1M67 30.5h1M5 31.5h1M14 31.5h1M29 31.5h1M34 31.5h2M39 31.5h1M44 31.5h1M50 31.5h1M71 31.5h1M40 32.5h1M50 32.5h1M62 32.5h1M74 32.5h1M23 33.5h1M36 33.5h1M65 33.5h1M79 33.5h1M1 34.5h2M12 34.5h1M15 34.5h1M21 34.5h1M63 34.5h1M65 34.5h1M5 35.5h1M16 35.5h1M31 37.5h1M67 37.5h1M33 38.5h1M4 39.5h1M16 39.5h2M32 39.5h1M57 39.5h1M62 39.5h1M67 39.5h2M6 40.5h1M19 40.5h1M25 40.5h1M55 40.5h1M61 40.5h1M74 40.5h1M12 41.5h2M18 41.5h1M23 41.5h1M48 41.5h1M63 41.5h2M76 41.5h1M47 42.5h1M13 43.5h1M49 43.5h1M64 45.5h1M75 45.5h1M15 46.5h1M17 46.5h1M59 46.5h1M65 46.5h1M68 46.5h1M78 46.5h2M1 47.5h1M15 47.5h1M44 47.5h1M57 47.5h1M6 48.5h1M18 48.5h1M30 48.5h1M40 48.5h1M9 49.5h1M30 49.5h1M36 49.5h1M41 49.5h1M45 49.5h2M51 49.5h1M66 49.5h1M75 49.5h1M13 50.5h1M25 50.5h1M66 50.5h1M8 51.5h4M67 51.5h1M13 52.5h1M29 52.5h1M66 52.5h1M29 53.5h1M47 53.5h1M54 53.5h1M73 53.5h2M2 54.5h1M11 54.5h1M34 54.5h1M49 54.5h1M53 54.5h1M2 55.5h1M10 55.5h1M20 55.5h1M36 55.5h1M47 55.5h1M53 55.5h1M60 55.5h1M68 55.5h1M3 56.5h1M10 56.5h1M17 56.5h1M41 56.5h1M48 56.5h1M57 56.5h1M63 56.5h1M71 56.5h1M6 57.5h1M20 57.5h1M26 57.5h1M29 57.5h1M41 57.5h1M15 58.5h1M21 58.5h1M24 58.5h2M37 58.5h1M51 58.5h1M58 58.5h1M22 59.5h2M44 59.5h1M64 59.5h2M9 60.5h1M13 60.5h1M15 60.5h1M23 60.5h1M25 60.5h1M31 60.5h1M42 60.5h1M44 60.5h1M62 60.5h2M14 61.5h1M23 61.5h2M51 61.5h1M72 61.5h1M12 62.5h2M38 62.5h1M49 62.5h1M57 62.5h1M29 63.5h1M57 63.5h1M59 63.5h1M68 63.5h1M9 64.5h1M31 64.5h1M57 64.5h1M73 64.5h1M8 65.5h1M14 65.5h1M21 65.5h1M23 65.5h1M28 65.5h1M33 65.5h1M46 65.5h2M27 66.5h1M33 66.5h1M42 66.5h1M44 66.5h1M46 66.5h2M58 66.5h1M64 66.5h1M20 67.5h1M24 67.5h2M32 67.5h1M42 67.5h1M45 67.5h3M65 67.5h1M24 68.5h2M42 68.5h1M44 68.5h3M16 69.5h1M24 69.5h2M28 69.5h1M45 69.5h1M51 69.5h1M25 70.5h1M27 70.5h1M45 70.5h1M65 70.5h1M15 71.5h1M17 71.5h1M25 71.5h2M31 71.5h1M37 71.5h1M60 71.5h1M16 72.5h1M21 72.5h1M24 72.5h1M26 72.5h1M37 72.5h2M55 72.5h1M58 72.5h1M60 72.5h1M65 72.5h1M16 73.5h1M22 73.5h1M24 73.5h1M33 73.5h1M37 73.5h1M41 73.5h1M45 73.5h1M55 73.5h1M59 73.5h2M22 74.5h3M29 74.5h1M33 74.5h1M51 74.5h1M53 74.5h1M60 74.5h1M23 75.5h2M40 75.5h1M44 75.5h1M50 75.5h1M56 75.5h1M59 75.5h1M61 75.5h1M44 76.5h1M51 76.5h1M29 77.5h1M39 77.5h1M44 77.5h1M38 78.5h1M52 78.5h1M36 79.5h2M40 79.5h2M44 80.5h1"/>
<path stroke="#667a30" d="M39 0.5h1M47 0.5h1M30 1.5h1M47 1.5h1M30 2.5h1M43 2.5h1M48 2.5h1M29 3.5h1M47 3.5h2M22 4.5h2M30 4.5h1M41 4.5h1M47 4.5h1M51 4.5h1M53 4.5h1M59 4.5h1M22 5.5h1M34 5.5h1M47 5.5h1M51 5.5h1M21 6.5h2M28 6.5h1M34 6.5h2M40 6.5h1M43 6.5h1M49 6.5h2M61 6.5h1M34 7.5h1M40 7.5h3M50 7.5h1M55 7.5h1M24 8.5h1M34 8.5h2M39 8.5h1M55 8.5h1M65 8.5h1M15 9.5h1M23 9.5h2M28 9.5h1M35 9.5h1M64 9.5h1M16 10.5h1M54 10.5h1M62 10.5h1M15 11.5h3M30 11.5h1M14 12.5h1M22 12.5h1M42 12.5h1M36 13.5h1M54 13.5h1M63 13.5h1M37 14.5h1M41 14.5h1M51 14.5h1M55 14.5h1M8 15.5h1M55 15.5h1M67 15.5h5M8 16.5h1M19 16.5h1M21 16.5h1M28 16.5h1M67 16.5h1M7 17.5h1M22 17.5h1M26 17.5h1M43 17.5h1M60 17.5h1M65 17.5h2M7 18.5h2M74 18.5h1M7 19.5h1M11 19.5h1M67 19.5h1M73 19.5h1M75 19.5h1M30 20.5h1M66 20.5h1M72 20.5h2M17 21.5h1M54 21.5h3M70 21.5h1M16 22.5h1M44 22.5h1M52 22.5h1M57 22.5h1M69 22.5h1M76 22.5h1M5 23.5h3M20 23.5h1M43 23.5h1M46 23.5h1M56 23.5h2M64 23.5h1M70 23.5h1M73 23.5h1M77 23.5h1M18 24.5h1M43 24.5h1M51 24.5h2M71 24.5h1M11 25.5h1M31 25.5h1M61 25.5h1M3 26.5h1M7 26.5h2M10 27.5h1M41 27.5h1M67 27.5h2M33 28.5h1M14 29.5h1M20 29.5h1M55 29.5h1M77 29.5h1M56 30.5h1M63 30.5h1M66 30.5h1M68 30.5h1M0 31.5h2M4 31.5h1M13 31.5h1M18 31.5h1M49 31.5h1M55 31.5h1M62 31.5h1M72 31.5h1M76 31.5h1M8 32.5h1M22 32.5h1M29 32.5h2M36 32.5h1M49 32.5h1M56 32.5h1M58 32.5h1M63 32.5h1M79 32.5h1M22 33.5h1M29 33.5h2M37 33.5h2M64 33.5h1M80 33.5h1M3 34.5h1M26 34.5h1M44 34.5h1M64 34.5h1M12 35.5h1M46 35.5h1M46 36.5h1M33 37.5h1M80 37.5h1M15 38.5h1M17 38.5h1M31 38.5h1M61 38.5h1M66 38.5h1M80 38.5h1M2 39.5h2M33 39.5h1M52 39.5h1M55 39.5h1M69 39.5h2M79 39.5h1M81 39.5h1M21 40.5h1M26 40.5h1M54 40.5h1M59 40.5h1M1 41.5h1M10 41.5h2M25 41.5h1M28 41.5h1M47 41.5h1M77 41.5h2M81 41.5h1M0 42.5h1M14 42.5h1M19 42.5h1M49 42.5h1M63 42.5h1M65 42.5h1M0 43.5h1M47 43.5h1M34 44.5h1M34 45.5h1M68 45.5h1M16 46.5h1M36 46.5h1M54 46.5h1M77 46.5h1M0 47.5h1M16 47.5h1M42 47.5h2M50 47.5h2M58 47.5h1M1 48.5h1M17 48.5h1M22 48.5h1M24 48.5h1M31 48.5h1M44 48.5h1M50 48.5h2M58 48.5h1M72 48.5h1M4 49.5h1M8 49.5h1M18 49.5h1M25 49.5h1M31 49.5h1M62 49.5h1M67 49.5h1M76 49.5h1M79 49.5h2M12 50.5h1M14 50.5h1M17 50.5h1M24 50.5h1M3 51.5h1M25 51.5h1M60 51.5h1M66 51.5h1M47 52.5h1M12 53.5h2M39 53.5h1M70 53.5h1M72 54.5h2M77 54.5h1M19 55.5h1M49 55.5h1M69 55.5h1M9 56.5h1M28 56.5h2M37 56.5h1M62 56.5h1M3 57.5h1M7 57.5h1M10 57.5h1M16 57.5h1M23 57.5h2M34 57.5h1M37 57.5h1M60 57.5h1M73 57.5h3M4 58.5h1M11 58.5h1M23 58.5h1M28 58.5h1M36 58.5h1M64 58.5h1M10 59.5h1M24 59.5h3M63 59.5h1M7 60.5h2M14 60.5h1M50 60.5h1M5 61.5h1M7 61.5h1M13 61.5h1M69 61.5h1M73 61.5h1M6 62.5h1M72 62.5h2M14 63.5h2M20 63.5h1M37 63.5h1M54 63.5h1M58 63.5h1M73 63.5h1M13 64.5h1M52 64.5h1M59 64.5h1M61 64.5h1M72 64.5h1M9 65.5h5M25 65.5h1M72 65.5h1M25 66.5h1M29 66.5h1M39 66.5h1M43 66.5h1M17 67.5h1M26 67.5h1M44 67.5h1M38 68.5h1M58 68.5h1M66 68.5h1M50 69.5h1M63 69.5h3M18 70.5h1M26 70.5h1M64 70.5h1M16 71.5h1M45 71.5h1M52 71.5h1M56 71.5h2M65 71.5h1M15 72.5h1M25 72.5h1M41 72.5h1M45 72.5h2M56 72.5h1M25 73.5h1M30 73.5h1M38 73.5h3M46 73.5h1M19 74.5h1M30 74.5h2M37 74.5h1M40 74.5h1M45 74.5h2M52 74.5h1M58 74.5h2M29 75.5h1M33 75.5h1M46 75.5h1M58 75.5h1M21 76.5h1M27 76.5h1M29 76.5h1M33 76.5h1M39 76.5h1M50 76.5h1M57 76.5h2M32 77.5h2M51 77.5h1M32 78.5h1M37 78.5h1M50 78.5h1M33 79.5h1M50 79.5h1M33 80.5h1M36 80.5h1M41 80.5h1"/>
<path stroke="#7b7a35" d="M40 0.5h1M28 1.5h1M29 2.5h1M47 2.5h1M30 3.5h1M42 3.5h2M43 4.5h1M48 4.5h1M23 5.5h1M41 5.5h1M43 5.5h1M48 5.5h1M52 5.5h1M59 5.5h1M23 6.5h2M41 6.5h2M48 6.5h1M22 7.5h3M60 7.5h1M23 8.5h1M30 8.5h1M47 8.5h1M13 10.5h1M64 10.5h1M14 11.5h1M54 11.5h1M15 12.5h3M37 12.5h1M43 12.5h1M54 12.5h1M61 12.5h1M63 12.5h1M70 12.5h1M18 13.5h1M47 13.5h1M69 13.5h1M19 14.5h1M56 14.5h1M63 14.5h1M68 14.5h1M9 15.5h1M20 15.5h1M50 15.5h1M62 15.5h1M20 16.5h1M29 16.5h1M56 16.5h1M66 16.5h1M8 17.5h1M24 17.5h1M49 17.5h1M9 18.5h1M31 19.5h1M74 19.5h1M13 20.5h2M31 20.5h1M50 20.5h1M56 20.5h1M74 20.5h1M18 21.5h1M63 21.5h1M65 21.5h1M71 21.5h3M54 22.5h1M58 22.5h1M70 22.5h2M25 23.5h1M53 23.5h1M71 23.5h2M37 24.5h1M60 24.5h1M46 25.5h1M12 26.5h1M33 26.5h1M13 27.5h1M73 29.5h1M78 29.5h1M19 30.5h1M33 30.5h1M40 30.5h1M59 30.5h1M71 30.5h1M77 30.5h1M2 31.5h1M22 31.5h1M59 31.5h1M66 31.5h1M79 31.5h1M19 32.5h1M64 32.5h2M80 32.5h1M1 33.5h2M9 33.5h1M20 33.5h1M26 33.5h1M28 33.5h1M4 34.5h1M11 34.5h1M45 34.5h1M38 37.5h1M75 37.5h2M79 37.5h1M16 38.5h1M58 38.5h1M79 38.5h1M0 39.5h2M61 39.5h1M77 39.5h2M80 39.5h1M5 40.5h1M20 40.5h1M60 40.5h1M75 40.5h1M0 41.5h1M2 41.5h2M19 41.5h1M79 41.5h2M1 42.5h1M22 42.5h1M64 42.5h1M1 43.5h1M4 43.5h2M42 43.5h1M35 46.5h1M69 46.5h1M76 46.5h1M52 47.5h1M54 47.5h1M60 47.5h1M71 47.5h1M78 47.5h3M15 48.5h2M61 48.5h1M1 49.5h1M14 49.5h1M21 49.5h1M58 49.5h1M78 49.5h1M3 50.5h1M9 50.5h1M21 50.5h1M40 50.5h1M47 50.5h1M61 50.5h1M2 51.5h1M7 51.5h1M67 53.5h1M47 54.5h1M68 54.5h1M34 55.5h1M20 56.5h1M43 56.5h1M8 57.5h2M27 57.5h1M55 57.5h1M9 58.5h2M22 58.5h1M26 58.5h1M7 59.5h3M15 59.5h1M17 59.5h1M62 59.5h1M6 60.5h1M24 60.5h1M30 60.5h1M49 60.5h1M66 60.5h2M6 61.5h1M49 61.5h1M71 62.5h1M31 63.5h1M56 63.5h1M72 63.5h1M14 64.5h1M24 64.5h1M51 64.5h1M60 64.5h1M18 65.5h1M30 65.5h1M60 65.5h1M71 65.5h1M12 66.5h1M17 66.5h1M24 66.5h1M61 66.5h1M11 67.5h1M33 67.5h1M62 67.5h1M10 68.5h1M17 68.5h1M19 68.5h1M26 68.5h1M37 68.5h1M43 68.5h1M63 68.5h3M26 69.5h1M66 69.5h1M16 70.5h1M67 70.5h1M33 72.5h1M50 72.5h1M57 72.5h1M20 73.5h1M56 73.5h3M32 74.5h1M38 74.5h2M56 74.5h2M21 75.5h1M28 75.5h1M32 75.5h1M37 75.5h1M39 75.5h1M57 75.5h1M32 76.5h1M37 76.5h1M37 77.5h2M50 77.5h1M33 78.5h1M51 78.5h1M52 79.5h1M40 80.5h1M41 81.5h1"/>
<path stroke="#8d7a3d" d="M34 0.5h1M29 1.5h1M34 1.5h1M48 1.5h1M52 1.5h1M34 4.5h1M35 5.5h1M19 6.5h1M59 6.5h1M18 7.5h1M28 7.5h2M48 7.5h2M59 7.5h1M19 8.5h1M28 8.5h1M49 8.5h1M47 9.5h1M12 10.5h1M47 10.5h1M13 11.5h1M47 11.5h2M53 11.5h1M47 12.5h2M52 12.5h1M16 13.5h1M37 13.5h1M52 13.5h1M52 14.5h1M60 14.5h1M18 15.5h2M25 15.5h1M41 15.5h1M61 16.5h1M30 17.5h1M41 17.5h1M6 18.5h1M29 18.5h1M49 19.5h1M75 20.5h1M76 21.5h1M19 22.5h1M53 22.5h1M62 22.5h1M72 22.5h1M4 23.5h1M17 23.5h1M44 23.5h2M52 23.5h1M6 24.5h1M8 24.5h1M20 24.5h1M26 24.5h1M44 24.5h1M46 24.5h1M2 25.5h1M6 25.5h1M10 25.5h1M45 25.5h1M4 26.5h1M6 26.5h1M9 26.5h1M12 28.5h1M32 28.5h1M32 29.5h2M49 29.5h2M76 29.5h1M21 30.5h1M49 30.5h1M57 30.5h1M65 30.5h1M69 30.5h2M72 30.5h1M78 30.5h1M3 31.5h1M73 31.5h1M1 32.5h1M57 32.5h1M0 33.5h1M21 33.5h1M5 34.5h1M28 34.5h1M6 35.5h1M53 37.5h1M68 37.5h1M71 37.5h2M74 37.5h1M38 38.5h1M54 38.5h1M67 38.5h1M74 39.5h1M2 40.5h2M77 40.5h2M80 40.5h2M6 41.5h1M13 42.5h1M26 42.5h1M42 42.5h1M6 43.5h1M8 43.5h2M12 43.5h1M27 43.5h1M74 45.5h1M52 46.5h1M75 46.5h1M59 47.5h1M0 48.5h1M23 48.5h1M79 48.5h1M7 49.5h1M77 49.5h1M2 50.5h1M8 50.5h1M10 50.5h2M15 50.5h1M23 50.5h1M31 50.5h1M59 50.5h1M4 51.5h1M30 51.5h2M47 51.5h2M48 52.5h1M68 52.5h1M71 54.5h1M74 54.5h1M76 54.5h1M35 55.5h1M70 55.5h1M74 55.5h1M78 55.5h1M34 56.5h1M36 56.5h1M54 56.5h1M60 56.5h1M72 56.5h1M74 56.5h1M28 57.5h1M35 57.5h2M63 57.5h1M76 57.5h1M8 58.5h1M18 58.5h1M27 58.5h1M61 58.5h1M4 59.5h1M5 60.5h1M31 61.5h1M51 62.5h1M74 62.5h1M39 63.5h1M50 63.5h1M19 64.5h1M39 65.5h1M55 65.5h1M61 65.5h2M20 66.5h1M28 66.5h1M28 67.5h1M43 67.5h1M64 67.5h1M28 68.5h1M32 68.5h2M27 69.5h1M32 69.5h2M67 69.5h1M33 70.5h1M68 70.5h1M33 71.5h1M31 72.5h1M52 72.5h1M61 72.5h1M21 73.5h1M31 73.5h2M51 73.5h2M62 73.5h1M21 74.5h1M61 74.5h1M45 75.5h1M46 76.5h1M28 79.5h1M32 79.5h1M46 79.5h1M51 79.5h1M46 80.5h1M40 81.5h1"/>
<path stroke="#a1794a" d="M48 0.5h1M35 1.5h1M34 2.5h2M34 3.5h1M53 3.5h1M42 4.5h1M42 5.5h1M61 5.5h1M19 7.5h1M29 10.5h1M48 10.5h1M63 10.5h1M62 11.5h1M17 13.5h1M22 13.5h2M43 13.5h1M53 13.5h1M69 14.5h1M71 14.5h1M56 15.5h1M51 16.5h1M9 17.5h1M10 18.5h1M49 18.5h1M13 19.5h1M37 20.5h1M23 22.5h1M73 22.5h1M75 22.5h1M3 23.5h1M5 24.5h1M7 24.5h1M19 24.5h1M7 25.5h1M5 26.5h1M41 28.5h1M79 29.5h1M20 30.5h1M39 30.5h1M21 31.5h1M63 31.5h1M75 31.5h1M80 31.5h1M0 32.5h1M2 32.5h1M5 32.5h3M21 32.5h1M3 33.5h4M6 34.5h1M8 35.5h2M11 35.5h1M45 36.5h1M32 37.5h1M69 37.5h2M73 37.5h1M77 37.5h2M60 38.5h1M71 38.5h2M78 38.5h1M58 39.5h1M76 39.5h1M0 40.5h2M4 40.5h1M76 40.5h1M79 40.5h1M4 41.5h1M22 41.5h1M2 42.5h1M8 42.5h2M20 42.5h1M2 43.5h2M7 43.5h1M10 43.5h2M48 43.5h1M35 44.5h1M69 45.5h1M71 45.5h2M74 46.5h1M74 47.5h4M59 48.5h1M73 48.5h3M78 48.5h1M80 48.5h1M0 49.5h1M5 49.5h1M17 49.5h1M59 49.5h1M41 50.5h1M60 50.5h1M1 51.5h1M39 52.5h1M75 54.5h1M73 55.5h1M61 56.5h1M73 56.5h1M75 56.5h1M77 57.5h1M5 58.5h1M7 58.5h1M57 58.5h1M43 60.5h1M67 61.5h1M31 62.5h1M70 62.5h1M71 63.5h1M29 64.5h1M24 65.5h1M9 66.5h1M11 66.5h1M27 67.5h1M37 67.5h1M57 67.5h2M63 67.5h1M18 69.5h1M17 70.5h1M32 70.5h1M51 70.5h1M61 73.5h1M19 75.5h1M38 75.5h1M38 76.5h1M27 77.5h1M46 77.5h1M45 78.5h2M45 79.5h1M32 80.5h1"/>
<path stroke="#b17959" d="M35 0.5h1M35 3.5h1M35 4.5h1M52 4.5h1M60 6.5h1M48 8.5h1M48 9.5h1M63 11.5h1M53 12.5h1M62 12.5h1M61 13.5h2M17 14.5h2M62 14.5h1M70 14.5h1M23 15.5h1M51 15.5h1M60 15.5h1M9 16.5h1M41 16.5h1M50 16.5h1M60 16.5h1M29 17.5h1M50 17.5h1M50 18.5h1M12 19.5h1M30 19.5h1M50 19.5h1M38 21.5h1M64 21.5h1M74 21.5h1M74 22.5h1M61 23.5h1M45 24.5h1M5 25.5h1M9 25.5h1M24 25.5h1M32 25.5h1M26 26.5h1M13 28.5h1M50 28.5h1M74 29.5h2M58 30.5h1M64 30.5h1M76 30.5h1M19 31.5h1M65 31.5h1M74 31.5h1M4 32.5h1M20 32.5h1M35 32.5h1M8 33.5h1M27 33.5h1M10 34.5h1M7 35.5h1M10 35.5h1M45 35.5h1M52 38.5h1M59 38.5h1M73 38.5h1M76 38.5h2M46 39.5h1M60 39.5h1M75 39.5h1M5 41.5h1M20 41.5h1M34 41.5h1M3 42.5h2M7 42.5h1M21 42.5h1M28 42.5h1M35 45.5h1M70 45.5h1M73 45.5h1M70 46.5h1M53 47.5h1M72 47.5h1M45 48.5h1M60 48.5h1M76 48.5h1M6 49.5h1M15 49.5h1M61 49.5h1M4 50.5h1M16 50.5h1M22 50.5h1M5 51.5h2M30 52.5h1M67 52.5h1M54 54.5h1M48 55.5h1M56 55.5h1M71 55.5h1M75 55.5h1M35 56.5h1M19 57.5h1M6 58.5h1M6 59.5h1M16 59.5h1M42 59.5h1M30 61.5h1M50 61.5h1M68 61.5h1M30 62.5h1M30 63.5h1M51 63.5h1M20 64.5h1M30 64.5h1M39 64.5h1M71 64.5h1M20 65.5h1M29 65.5h1M57 65.5h1M10 66.5h1M18 66.5h1M62 66.5h2M18 67.5h2M18 68.5h1M27 68.5h1M17 69.5h1M32 71.5h1M32 72.5h1M20 74.5h1M28 76.5h1M45 76.5h1M45 77.5h1M45 80.5h1"/>
<path stroke="#be796a" d="M52 2.5h2M52 3.5h1M60 5.5h1M18 6.5h1M30 9.5h1M30 10.5h1M61 14.5h1M61 15.5h1M10 16.5h1M43 16.5h1M11 17.5h1M25 17.5h1M12 18.5h1M30 18.5h1M75 21.5h1M17 22.5h1M64 22.5h1M3 24.5h2M38 24.5h1M62 24.5h1M8 25.5h1M10 26.5h2M25 26.5h1M32 26.5h1M11 27.5h1M32 27.5h1M79 30.5h1M20 31.5h1M40 31.5h1M56 31.5h1M58 31.5h1M64 31.5h1M3 32.5h1M7 33.5h1M7 34.5h1M27 34.5h1M52 37.5h1M68 38.5h1M70 38.5h1M75 38.5h1M54 39.5h1M59 39.5h1M21 41.5h1M26 41.5h1M5 42.5h1M10 42.5h1M12 42.5h1M28 43.5h1M53 46.5h1M73 46.5h1M73 47.5h1M77 48.5h1M16 49.5h1M22 49.5h1M24 49.5h1M40 49.5h1M60 49.5h1M1 50.5h1M48 53.5h1M69 53.5h1M48 54.5h1M55 54.5h1M69 54.5h2M72 55.5h1M18 56.5h1M42 56.5h1M76 56.5h2M16 58.5h1M63 58.5h1M5 59.5h1M50 62.5h1M68 62.5h1M55 63.5h1M69 63.5h1M37 64.5h1M70 64.5h1M19 65.5h1M19 66.5h1M50 70.5h1M50 71.5h1M62 74.5h1M20 75.5h1M28 77.5h1M27 78.5h2"/>
<path stroke="#c97b7f" d="M42 13.5h1M70 13.5h1M24 14.5h1M43 14.5h1M10 17.5h1M42 17.5h1M11 18.5h1M18 22.5h1M63 22.5h1M19 23.5h1M23 23.5h1M37 23.5h1M63 23.5h1M3 25.5h2M73 30.5h1M8 34.5h2M74 38.5h1M53 39.5h1M27 41.5h1M6 42.5h1M71 46.5h2M7 50.5h1M76 55.5h2M17 57.5h1M43 57.5h1M57 57.5h1M61 57.5h1M17 58.5h1M62 58.5h1M69 62.5h1M38 63.5h1M70 63.5h1M37 66.5h1M56 66.5h1M10 67.5h1M38 67.5h1"/>
<path stroke="#d07e93" d="M29 8.5h1M18 23.5h1M61 24.5h1M26 25.5h1M12 27.5h1M57 31.5h1M52 35.5h1M69 38.5h1M11 42.5h1M28 45.5h1M23 49.5h1M68 53.5h1M54 55.5h1M19 56.5h1M62 57.5h1M51 72.5h1"/>
<path stroke="#d484a9" d="M29 9.5h1M43 15.5h1M37 21.5h1M51 35.5h1M32 38.5h1M53 38.5h1M27 42.5h1M48 42.5h1M29 45.5h1M43 59.5h1M37 65.5h1M51 71.5h1"/>
<path stroke="#d48abb" d="M24 16.5h2M62 23.5h1M74 30.5h2M45 33.5h1M35 47.5h1M5 50.5h2M18 57.5h1M55 64.5h2"/>
<path stroke="#d392cb" d="M23 14.5h1M37 22.5h2M44 33.5h1M51 36.5h1M45 39.5h1M35 41.5h1M29 44.5h1M36 47.5h1M42 58.5h2M57 66.5h1"/>
<path stroke="#cf9ddb" d="M42 14.5h1M42 16.5h1M24 23.5h1M38 23.5h1M25 24.5h1M25 25.5h1M44 32.5h1M36 48.5h1M55 55.5h1M55 56.5h1M42 57.5h1M56 57.5h1M38 64.5h1M38 66.5h1"/>
<path stroke="#cba8e5" d="M24 24.5h1M52 36.5h1M28 44.5h1M56 56.5h1"/>
<path stroke="#c6b4ee" d="M24 15.5h1M42 15.5h1M38 65.5h1M56 65.5h1"/>
<path stroke="#c3bff2" d="M45 32.5h1M35 48.5h1"/>
<path stroke="#c1caf3" d="M34 40.5h1M46 40.5h1"/>
<path stroke="#ffffff" d="M35 40.5h1M45 40.5h1"/>
</g>
<rect x="88.5" y="150.5" width="356.0" height="350.0" fill="none" stroke="#000" stroke-width="1.3"/>
<text x="130.44" y="519.60" font-size="17.09" textLength="19.15" lengthAdjust="spacingAndGlyphs">40</text>
<text x="63.29" y="203.90" font-size="17.09" textLength="19.15" lengthAdjust="spacingAndGlyphs">40</text>
<text x="193.24" y="519.60" font-size="17.09" textLength="19.15" lengthAdjust="spacingAndGlyphs">20</text>
<text x="63.29" y="266.90" font-size="17.09" textLength="19.15" lengthAdjust="spacingAndGlyphs">20</text>
<text x="261.30" y="519.60" font-size="17.09" textLength="9.18" lengthAdjust="spacingAndGlyphs">0</text>
<text x="73.30" y="329.90" font-size="17.09" textLength="9.18" lengthAdjust="spacingAndGlyphs">0</text>
<text x="311.98" y="519.60" font-size="17.09" textLength="33.08" lengthAdjust="spacingAndGlyphs">−20</text>
<text x="49.33" y="392.90" font-size="17.09" textLength="33.08" lengthAdjust="spacingAndGlyphs">−20</text>
<text x="374.98" y="519.60" font-size="17.09" textLength="33.08" lengthAdjust="spacingAndGlyphs">−40</text>
<text x="49.33" y="455.90" font-size="17.09" textLength="33.08" lengthAdjust="spacingAndGlyphs">−40</text>
<path d="M140.5 500.5v-6M140.5 150.5v6M88.5 199.5h6M444.5 199.5h-6M203.5 500.5v-6M203.5 150.5v6M88.5 262.5h6M444.5 262.5h-6M266.5 500.5v-6M266.5 150.5v6M88.5 325.5h6M444.5 325.5h-6M329.5 500.5v-6M329.5 150.5v6M88.5 388.5h6M444.5 388.5h-6M392.5 500.5v-6M392.5 150.5v6M88.5 451.5h6M444.5 451.5h-6" stroke="#000" stroke-width="0.7" fill="none"/>
<text x="207.80" y="545.80" font-size="17.20" textLength="11.80" lengthAdjust="spacingAndGlyphs" class="se">Δ</text>
<text x="220.60" y="545.80" font-size="18.50" textLength="9.00" lengthAdjust="spacingAndGlyphs" class="se" font-style="italic">α</text>
<path d="M240.9 541.5h14.2m-3.6 -2.6q1.2 2 3.6 2.6q-2.4 0.6 -3.6 2.6" fill="none" stroke="#000" stroke-width="0.75"/>
<text x="262.30" y="545.80" font-size="17.42" textLength="64.10" lengthAdjust="spacingAndGlyphs">E (mas)</text>
<g transform="translate(37.2,383.5) rotate(-90)">
<text x="0.00" y="0.00" font-size="17.20" textLength="12.00" lengthAdjust="spacingAndGlyphs" class="se">Δ</text>
<text x="13.20" y="0.00" font-size="18.50" textLength="8.40" lengthAdjust="spacingAndGlyphs" class="se" font-style="italic">δ</text>
<path d="M30 -4.3h12.2m-3.6 -2.6q1.2 2 3.6 2.6q-2.4 0.6 -3.6 2.6" fill="none" stroke="#000" stroke-width="0.75"/>
<text x="52.35" y="0.00" font-size="17.42" textLength="64.35" lengthAdjust="spacingAndGlyphs">N (mas)</text>
</g>
<text y="142.60" font-size="20.81"><tspan x="198.37" textLength="81.97" lengthAdjust="spacingAndGlyphs">Method:</tspan> <tspan x="287.57" textLength="47.71" lengthAdjust="spacingAndGlyphs">Absil</tspan></text>
<defs><linearGradient id="cb0" x1="0" y1="0" x2="0" y2="1"><stop offset="0.0000" stop-color="#ffffff"/><stop offset="0.0417" stop-color="#edfaf4"/><stop offset="0.0833" stop-color="#d9f2ef"/><stop offset="0.1250" stop-color="#cbe8f0"/><stop offset="0.1667" stop-color="#c3d9f3"/><stop offset="0.2083" stop-color="#c2c6f3"/><stop offset="0.2500" stop-color="#c6b4ee"/><stop offset="0.2917" stop-color="#cea1df"/><stop offset="0.3333" stop-color="#d490c6"/><stop offset="0.3750" stop-color="#d484a9"/><stop offset="0.4167" stop-color="#cc7c86"/><stop offset="0.4583" stop-color="#b97964"/><stop offset="0.5000" stop-color="#a1794a"/><stop offset="0.5417" stop-color="#817a37"/><stop offset="0.5833" stop-color="#607a2f"/><stop offset="0.6250" stop-color="#447731"/><stop offset="0.6667" stop-color="#2b6f39"/><stop offset="0.7083" stop-color="#1c6344"/><stop offset="0.7500" stop-color="#16534c"/><stop offset="0.7917" stop-color="#16404e"/><stop offset="0.8333" stop-color="#192d48"/><stop offset="0.8750" stop-color="#1b1e3b"/><stop offset="0.9167" stop-color="#181027"/><stop offset="0.9583" stop-color="#0f0611"/><stop offset="1.0000" stop-color="#000000"/></linearGradient></defs>
<rect x="466.5" y="150.5" width="18" height="350" fill="url(#cb0)" stroke="#000" stroke-width="1.3"/>
<text x="488.00" y="173.85" font-size="17.09" textLength="34.42" lengthAdjust="spacingAndGlyphs">0.80</text>
<text x="488.00" y="218.46" font-size="17.09" textLength="34.42" lengthAdjust="spacingAndGlyphs">0.72</text>
<text x="488.00" y="263.05" font-size="17.09" textLength="34.42" lengthAdjust="spacingAndGlyphs">0.64</text>
<text x="488.00" y="307.65" font-size="17.09" textLength="34.42" lengthAdjust="spacingAndGlyphs">0.56</text>
<text x="488.00" y="352.25" font-size="17.09" textLength="34.42" lengthAdjust="spacingAndGlyphs">0.48</text>
<text x="488.00" y="396.85" font-size="17.09" textLength="34.42" lengthAdjust="spacingAndGlyphs">0.40</text>
<text x="488.00" y="441.45" font-size="17.09" textLength="34.42" lengthAdjust="spacingAndGlyphs">0.32</text>
<text x="488.00" y="486.05" font-size="17.09" textLength="34.42" lengthAdjust="spacingAndGlyphs">0.24</text>
<path d="M484.5 169.5h-6M484.5 214.5h-6M484.5 258.5h-6M484.5 303.5h-6M484.5 347.5h-6M484.5 392.5h-6M484.5 437.5h-6M484.5 481.5h-6" stroke="#000" stroke-width="0.7" fill="none"/>
<g transform="translate(625,150.5) scale(4.26829)" shape-rendering="crispEdges" fill="none" stroke-width="1.02">
<rect x="0" y="0" width="82" height="82" fill="#2f7137" stroke="none"/>
<path stroke="#000000" d="M34 34.5h1M40 34.5h2M34 35.5h1M39 35.5h3M48 35.5h2M48 36.5h2M48 37.5h1M29 38.5h1M38 40.5h1M42 40.5h1M51 42.5h1M32 43.5h1M31 44.5h2M31 45.5h2M39 45.5h3M46 45.5h1M39 46.5h2M46 46.5h1"/>
<path stroke="#0a030a" d="M35 35.5h1M45 45.5h1"/>
<path stroke="#110815" d="M38 27.5h1M44 27.5h1M43 28.5h1M40 33.5h1M35 34.5h1M39 34.5h1M35 36.5h1M42 36.5h1M42 37.5h2M47 37.5h1M49 37.5h1M28 38.5h1M43 38.5h1M29 39.5h1M51 41.5h1M37 42.5h1M52 42.5h1M31 43.5h1M33 43.5h1M37 43.5h2M38 44.5h1M45 44.5h1M41 46.5h1M45 46.5h1M40 47.5h1M37 52.5h1M36 53.5h1M42 53.5h1"/>
<path stroke="#170e23" d="M43 27.5h1M44 28.5h1M32 32.5h1M33 33.5h1M33 34.5h1M48 34.5h1M33 35.5h1M42 35.5h1M34 36.5h1M39 36.5h1M43 36.5h1M29 37.5h1M28 39.5h1M37 39.5h1M42 39.5h2M37 40.5h1M43 40.5h1M37 41.5h2M43 41.5h1M52 41.5h1M51 43.5h1M37 44.5h1M41 44.5h1M46 44.5h1M38 45.5h1M47 45.5h1M32 46.5h1M47 46.5h1M47 47.5h1M48 48.5h1M36 52.5h1M37 53.5h1"/>
<path stroke="#1a142f" d="M39 27.5h1M29 28.5h1M33 32.5h1M34 33.5h1M41 33.5h1M49 34.5h1M38 35.5h1M55 35.5h1M20 36.5h1M40 36.5h2M47 36.5h1M28 37.5h1M35 37.5h1M30 38.5h1M48 38.5h1M38 39.5h1M42 41.5h1M32 42.5h1M50 42.5h1M45 43.5h1M52 43.5h1M33 44.5h1M39 44.5h2M60 44.5h1M25 45.5h1M42 45.5h1M31 46.5h1M39 47.5h1M46 47.5h1M47 48.5h1M51 52.5h1M41 53.5h1"/>
<path stroke="#1b1e3b" d="M25 19.5h1M26 20.5h1M35 26.5h1M38 26.5h2M37 27.5h1M37 28.5h2M44 29.5h1M45 30.5h1M31 31.5h2M47 33.5h1M47 34.5h1M55 34.5h1M47 35.5h1M21 36.5h1M55 36.5h2M56 37.5h1M40 38.5h1M44 38.5h1M47 38.5h1M49 38.5h1M31 42.5h1M33 42.5h1M36 42.5h1M40 42.5h1M24 43.5h1M24 44.5h2M59 44.5h1M33 45.5h1M25 46.5h1M33 46.5h1M33 47.5h1M48 49.5h2M35 50.5h1M36 51.5h1M42 52.5h2M43 53.5h1M41 54.5h2M45 54.5h1M54 60.5h1M55 61.5h1"/>
<path stroke="#1a2744" d="M53 17.5h1M35 25.5h1M44 26.5h1M29 27.5h1M35 27.5h2M29 29.5h2M43 29.5h1M45 29.5h2M52 29.5h1M46 30.5h1M42 34.5h1M56 34.5h1M20 35.5h1M43 35.5h1M54 35.5h1M56 35.5h1M28 36.5h1M57 36.5h1M21 37.5h1M27 37.5h1M36 37.5h1M41 37.5h1M46 37.5h1M34 38.5h2M41 38.5h2M30 39.5h1M50 41.5h1M38 42.5h2M45 42.5h2M34 43.5h1M39 43.5h1M44 43.5h1M53 43.5h1M59 43.5h1M23 44.5h1M52 44.5h1M24 45.5h1M26 45.5h1M37 45.5h1M60 45.5h1M24 46.5h1M38 46.5h1M34 50.5h1M28 51.5h1M34 51.5h2M37 51.5h1M50 51.5h2M44 53.5h2M51 53.5h1M36 54.5h1M45 55.5h1M27 63.5h1"/>
<path stroke="#18314a" d="M53 16.5h1M54 17.5h1M53 18.5h1M26 19.5h1M53 19.5h1M25 20.5h1M41 21.5h1M57 25.5h2M36 26.5h2M43 26.5h1M49 26.5h1M21 27.5h1M30 27.5h1M48 27.5h1M22 28.5h1M24 28.5h2M28 28.5h1M30 28.5h1M36 28.5h1M39 28.5h1M45 28.5h1M47 28.5h1M53 28.5h1M63 28.5h1M23 29.5h1M47 29.5h1M30 30.5h2M44 30.5h1M42 32.5h1M47 32.5h1M32 33.5h1M39 33.5h1M48 33.5h1M52 33.5h1M38 34.5h1M50 34.5h1M54 34.5h1M19 35.5h1M30 35.5h1M50 35.5h1M19 36.5h1M25 36.5h3M29 36.5h2M33 36.5h1M36 36.5h1M58 36.5h1M20 37.5h1M30 37.5h1M34 37.5h1M40 37.5h1M50 37.5h1M57 37.5h1M27 38.5h1M36 38.5h2M46 38.5h1M27 39.5h1M44 39.5h1M48 39.5h1M28 40.5h1M52 40.5h1M32 41.5h1M36 41.5h1M53 41.5h1M34 42.5h1M43 42.5h2M53 42.5h1M23 43.5h1M30 43.5h1M40 43.5h1M46 43.5h1M50 43.5h1M60 43.5h1M22 44.5h1M44 44.5h1M47 44.5h1M50 44.5h2M53 44.5h3M61 44.5h1M30 45.5h1M50 45.5h1M61 45.5h1M26 46.5h1M30 46.5h1M42 46.5h1M28 47.5h1M32 47.5h1M41 47.5h1M48 47.5h1M33 48.5h1M38 48.5h1M36 50.5h1M49 50.5h2M33 51.5h1M57 51.5h1M17 52.5h1M27 52.5h1M33 52.5h1M35 52.5h1M41 52.5h1M44 52.5h1M50 52.5h1M52 52.5h1M55 52.5h2M58 52.5h1M32 53.5h1M50 53.5h1M59 53.5h1M31 54.5h1M37 54.5h1M43 54.5h2M22 55.5h2M39 59.5h1M55 60.5h1M27 61.5h1M54 61.5h1M27 62.5h1M26 63.5h1M27 64.5h1"/>
<path stroke="#163d4e" d="M50 11.5h1M50 12.5h1M54 18.5h1M40 20.5h2M40 21.5h1M49 23.5h1M49 24.5h1M34 25.5h1M48 25.5h2M29 26.5h2M34 26.5h1M48 26.5h1M54 26.5h2M57 26.5h2M28 27.5h1M45 27.5h1M53 27.5h2M58 27.5h1M64 27.5h1M23 28.5h1M48 28.5h1M52 28.5h1M6 29.5h3M24 29.5h3M37 29.5h2M53 29.5h1M24 30.5h1M47 30.5h1M52 30.5h1M42 31.5h1M31 32.5h1M52 32.5h2M42 33.5h1M46 33.5h1M51 33.5h1M53 33.5h1M32 34.5h1M46 34.5h1M21 35.5h1M36 35.5h1M57 35.5h1M76 35.5h2M22 36.5h1M38 36.5h1M50 36.5h1M54 36.5h1M4 37.5h1M7 37.5h2M22 37.5h1M26 37.5h1M44 37.5h1M55 37.5h1M50 38.5h1M29 40.5h1M32 40.5h1M48 40.5h1M51 40.5h1M30 42.5h1M25 43.5h1M36 43.5h1M54 43.5h1M58 43.5h1M72 43.5h2M76 43.5h1M26 44.5h1M30 44.5h1M42 44.5h1M58 44.5h1M3 45.5h2M23 45.5h1M44 45.5h1M59 45.5h1M34 46.5h1M48 46.5h1M27 47.5h1M29 47.5h1M34 47.5h1M38 47.5h1M27 48.5h2M49 48.5h1M38 49.5h1M28 50.5h1M33 50.5h1M56 50.5h1M27 51.5h1M42 51.5h2M54 51.5h3M72 51.5h3M28 52.5h1M32 52.5h1M57 52.5h1M16 53.5h1M22 53.5h1M26 53.5h2M35 53.5h1M52 53.5h1M22 54.5h2M25 54.5h2M32 54.5h1M46 54.5h1M50 54.5h2M31 55.5h2M46 55.5h1M31 56.5h1M31 57.5h1M40 59.5h1M39 60.5h2M26 62.5h1M30 68.5h1M30 69.5h1"/>
<path stroke="#15474e" d="M51 9.5h1M41 10.5h1M50 10.5h2M60 10.5h1M23 11.5h1M41 11.5h1M51 11.5h1M40 12.5h1M45 12.5h1M50 13.5h1M54 16.5h1M63 16.5h1M38 17.5h2M62 17.5h2M39 18.5h1M52 18.5h1M62 18.5h1M22 19.5h1M40 19.5h2M52 19.5h1M61 19.5h1M23 20.5h1M27 20.5h1M34 20.5h1M42 20.5h1M26 21.5h2M34 21.5h1M35 22.5h1M40 22.5h2M50 22.5h1M50 23.5h1M34 24.5h2M48 24.5h1M58 24.5h1M29 25.5h1M36 25.5h1M39 25.5h2M56 25.5h1M20 26.5h1M40 26.5h1M56 26.5h1M59 26.5h1M65 26.5h2M75 26.5h1M20 27.5h1M22 27.5h1M24 27.5h1M34 27.5h1M42 27.5h1M49 27.5h1M59 27.5h1M65 27.5h1M16 28.5h1M21 28.5h1M35 28.5h1M42 28.5h1M46 28.5h1M62 28.5h1M64 28.5h1M9 29.5h2M16 29.5h2M22 29.5h1M36 29.5h1M62 29.5h1M9 30.5h2M25 30.5h1M43 30.5h1M25 31.5h1M33 31.5h1M46 31.5h2M52 31.5h1M68 32.5h2M35 33.5h1M54 33.5h3M68 33.5h2M51 34.5h1M57 34.5h1M60 34.5h1M24 35.5h3M29 35.5h1M32 35.5h1M44 35.5h1M58 35.5h3M24 36.5h1M31 36.5h1M44 36.5h1M59 36.5h1M63 36.5h2M3 37.5h1M5 37.5h2M9 37.5h1M12 37.5h2M19 37.5h1M25 37.5h1M39 37.5h1M63 37.5h1M6 38.5h2M45 38.5h1M56 38.5h1M47 39.5h1M49 39.5h1M31 41.5h1M33 41.5h1M24 42.5h1M35 42.5h1M73 42.5h2M17 43.5h1M41 43.5h1M55 43.5h1M61 43.5h1M67 43.5h2M71 43.5h1M74 43.5h2M77 43.5h1M16 44.5h2M21 44.5h1M36 44.5h1M49 44.5h1M56 44.5h1M20 45.5h3M36 45.5h1M48 45.5h1M51 45.5h1M54 45.5h3M20 46.5h1M23 46.5h1M29 46.5h1M11 47.5h2M24 47.5h3M45 47.5h1M11 48.5h2M28 49.5h1M33 49.5h2M47 49.5h1M55 49.5h1M37 50.5h1M55 50.5h1M70 50.5h2M18 51.5h1M44 51.5h1M58 51.5h1M63 51.5h2M70 51.5h2M16 52.5h1M18 52.5h1M34 52.5h1M38 52.5h1M45 52.5h1M59 52.5h1M64 52.5h1M15 53.5h1M21 53.5h1M31 53.5h1M38 53.5h1M46 53.5h1M56 53.5h1M58 53.5h1M60 53.5h1M5 54.5h1M14 54.5h2M21 54.5h1M24 54.5h1M40 54.5h1M60 54.5h1M24 55.5h1M40 55.5h2M44 55.5h1M51 55.5h1M22 56.5h1M32 56.5h1M45 56.5h2M30 57.5h1M30 58.5h1M39 58.5h2M45 58.5h1M46 59.5h1M53 59.5h2M38 60.5h1M46 60.5h1M53 60.5h1M57 60.5h1M19 61.5h1M28 61.5h1M39 61.5h2M58 61.5h1M18 62.5h1M28 62.5h1M41 62.5h1M17 63.5h2M41 63.5h2M17 64.5h1M26 64.5h1M30 67.5h1M35 68.5h1M40 68.5h1M29 69.5h1M39 69.5h1M57 69.5h1M20 70.5h1M29 70.5h2M39 70.5h1M29 71.5h1"/>
<path stroke="#16534c" d="M50 1.5h1M62 8.5h1M61 9.5h1M23 10.5h1M45 10.5h1M24 11.5h1M40 11.5h1M45 11.5h1M59 11.5h2M24 12.5h1M59 12.5h1M31 13.5h1M40 13.5h1M45 13.5h1M49 13.5h1M31 14.5h1M39 16.5h1M58 16.5h1M73 16.5h1M52 17.5h1M72 17.5h2M21 18.5h1M24 18.5h2M27 18.5h1M38 18.5h1M40 18.5h1M44 18.5h3M55 18.5h1M61 18.5h1M63 18.5h1M71 18.5h1M21 19.5h1M24 19.5h1M27 19.5h1M33 19.5h2M39 19.5h1M42 19.5h1M44 19.5h4M54 19.5h1M62 19.5h1M5 20.5h2M10 20.5h2M24 20.5h1M33 20.5h1M46 20.5h1M52 20.5h2M61 20.5h2M11 21.5h1M24 21.5h1M35 21.5h1M42 21.5h1M61 21.5h1M31 22.5h1M34 22.5h1M49 22.5h1M35 23.5h1M40 23.5h2M48 23.5h1M40 24.5h1M50 24.5h1M68 24.5h1M38 25.5h1M50 25.5h1M59 25.5h1M67 25.5h1M73 25.5h3M21 26.5h1M23 26.5h1M28 26.5h1M42 26.5h1M45 26.5h1M50 26.5h1M53 26.5h1M64 26.5h1M74 26.5h1M76 26.5h1M23 27.5h1M40 27.5h1M47 27.5h1M55 27.5h1M57 27.5h1M63 27.5h1M74 27.5h2M5 28.5h5M26 28.5h1M58 28.5h1M5 29.5h1M11 29.5h1M28 29.5h1M31 29.5h1M42 29.5h1M63 29.5h1M7 30.5h2M23 30.5h1M26 30.5h1M29 30.5h1M37 30.5h1M51 30.5h1M53 30.5h1M26 31.5h1M30 31.5h1M38 31.5h1M53 31.5h1M48 32.5h1M51 32.5h1M49 33.5h2M61 33.5h1M36 34.5h1M53 34.5h1M59 34.5h1M61 34.5h1M76 34.5h2M18 35.5h1M27 35.5h1M31 35.5h1M61 35.5h1M74 35.5h2M78 35.5h1M3 36.5h2M13 36.5h1M18 36.5h1M23 36.5h1M62 36.5h1M65 36.5h1M2 37.5h1M23 37.5h1M58 37.5h1M64 37.5h1M5 38.5h1M8 38.5h2M26 38.5h1M39 38.5h1M27 40.5h1M53 40.5h1M41 42.5h1M54 42.5h1M71 42.5h2M75 42.5h1M16 43.5h1M22 43.5h1M57 43.5h1M78 43.5h1M15 44.5h1M18 44.5h1M57 44.5h1M62 44.5h1M67 44.5h1M76 44.5h2M2 45.5h1M5 45.5h2M19 45.5h1M49 45.5h1M53 45.5h1M62 45.5h1M3 46.5h2M19 46.5h1M21 46.5h1M27 46.5h1M44 46.5h1M19 47.5h1M30 47.5h2M29 48.5h1M32 48.5h1M27 49.5h1M42 49.5h1M50 49.5h1M54 49.5h1M27 50.5h1M29 50.5h1M43 50.5h1M51 50.5h1M54 50.5h1M57 50.5h1M72 50.5h2M17 51.5h1M38 51.5h1M49 51.5h1M52 51.5h1M69 51.5h1M75 51.5h1M22 52.5h1M54 52.5h1M71 52.5h5M5 53.5h2M17 53.5h1M23 53.5h1M25 53.5h1M33 53.5h1M40 53.5h1M57 53.5h1M4 54.5h1M6 54.5h1M16 54.5h1M27 54.5h1M30 54.5h1M35 54.5h1M38 54.5h1M52 54.5h1M57 54.5h1M59 54.5h1M5 55.5h3M13 55.5h1M21 55.5h1M30 55.5h1M42 55.5h1M12 56.5h1M30 56.5h1M40 56.5h1M32 57.5h1M39 57.5h2M45 57.5h1M31 58.5h1M46 58.5h1M49 58.5h1M19 59.5h1M38 59.5h1M45 59.5h1M56 59.5h1M69 59.5h1M18 60.5h2M27 60.5h2M34 60.5h1M47 60.5h1M56 60.5h1M69 60.5h2M74 60.5h2M18 61.5h1M26 61.5h1M33 61.5h4M38 61.5h1M41 61.5h1M46 61.5h2M53 61.5h1M56 61.5h1M59 61.5h1M9 62.5h1M17 62.5h1M19 62.5h1M25 62.5h1M34 62.5h3M40 62.5h1M42 62.5h1M53 62.5h1M55 62.5h2M59 62.5h1M7 63.5h2M28 63.5h1M7 64.5h1M22 64.5h1M41 64.5h1M49 66.5h1M31 67.5h1M35 67.5h1M40 67.5h1M49 67.5h1M21 68.5h1M56 68.5h1M20 69.5h2M35 69.5h1M40 69.5h1M56 69.5h1M35 70.5h1M57 70.5h1M19 71.5h1M18 72.5h1M30 79.5h1"/>
<path stroke="#195d48" d="M32 0.5h1M27 2.5h1M50 2.5h1M27 3.5h1M16 7.5h1M36 7.5h1M62 7.5h2M21 8.5h1M36 8.5h2M51 8.5h2M61 8.5h1M22 9.5h1M37 9.5h1M45 9.5h1M50 9.5h1M52 9.5h1M62 9.5h1M22 10.5h1M32 10.5h1M42 10.5h1M61 10.5h1M69 11.5h1M10 12.5h1M49 12.5h1M51 12.5h1M10 13.5h1M30 13.5h1M39 13.5h1M39 14.5h2M45 14.5h1M49 14.5h1M39 15.5h1M45 15.5h1M54 15.5h1M58 15.5h1M64 15.5h1M38 16.5h1M45 16.5h1M57 16.5h1M64 16.5h1M27 17.5h1M37 17.5h1M44 17.5h4M55 17.5h1M57 17.5h1M20 18.5h1M28 18.5h1M33 18.5h2M37 18.5h1M43 18.5h1M47 18.5h1M72 18.5h1M5 19.5h1M19 19.5h2M23 19.5h1M28 19.5h1M35 19.5h1M43 19.5h1M60 19.5h1M63 19.5h1M70 19.5h1M7 20.5h1M20 20.5h1M22 20.5h1M35 20.5h1M43 20.5h1M45 20.5h1M47 20.5h1M6 21.5h3M10 21.5h1M12 21.5h1M25 21.5h1M33 21.5h1M46 21.5h1M51 21.5h1M9 22.5h1M13 22.5h2M27 22.5h1M31 23.5h1M34 23.5h1M29 24.5h1M36 24.5h1M41 24.5h1M57 24.5h1M59 24.5h1M69 24.5h1M74 24.5h2M22 25.5h1M28 25.5h1M30 25.5h1M37 25.5h1M41 25.5h1M54 25.5h2M66 25.5h1M68 25.5h1M76 25.5h1M19 26.5h1M22 26.5h1M47 26.5h1M60 26.5h1M73 26.5h1M25 27.5h1M52 27.5h1M56 27.5h1M4 28.5h1M10 28.5h1M15 28.5h1M17 28.5h1M20 28.5h1M31 28.5h1M34 28.5h1M54 28.5h1M57 28.5h1M27 29.5h1M51 29.5h1M61 29.5h1M11 30.5h1M16 30.5h2M27 30.5h1M32 30.5h1M38 30.5h1M42 30.5h1M61 30.5h1M10 31.5h1M24 31.5h1M43 31.5h1M39 32.5h1M41 32.5h1M54 32.5h1M70 32.5h1M31 33.5h1M57 33.5h1M60 33.5h1M67 33.5h1M70 33.5h1M18 34.5h2M30 34.5h2M52 34.5h1M58 34.5h1M67 34.5h7M75 34.5h1M78 34.5h1M22 35.5h2M28 35.5h1M53 35.5h1M65 35.5h3M71 35.5h3M12 36.5h1M14 36.5h1M32 36.5h1M60 36.5h2M66 36.5h1M10 37.5h2M24 37.5h1M45 37.5h1M62 37.5h1M65 37.5h1M4 38.5h1M10 38.5h4M20 38.5h6M57 38.5h1M23 39.5h1M26 39.5h1M34 39.5h1M36 39.5h1M64 39.5h1M15 40.5h1M31 40.5h1M49 40.5h1M65 40.5h1M16 41.5h1M44 41.5h1M46 41.5h1M54 41.5h1M57 41.5h1M23 42.5h1M55 42.5h6M67 42.5h4M76 42.5h1M15 43.5h1M18 43.5h1M35 43.5h1M56 43.5h1M69 43.5h2M14 44.5h1M19 44.5h2M48 44.5h1M66 44.5h1M68 44.5h1M7 45.5h3M13 45.5h3M27 45.5h1M52 45.5h1M57 45.5h2M2 46.5h1M5 46.5h1M7 46.5h7M22 46.5h1M28 46.5h1M49 46.5h2M61 46.5h2M10 47.5h1M13 47.5h1M20 47.5h1M23 47.5h1M49 47.5h1M10 48.5h1M26 48.5h1M39 48.5h1M41 48.5h1M37 49.5h1M56 49.5h1M70 49.5h1M19 50.5h1M38 50.5h1M42 50.5h1M48 50.5h1M53 50.5h1M63 50.5h2M69 50.5h1M19 51.5h1M29 51.5h1M53 51.5h1M23 52.5h1M26 52.5h1M46 52.5h1M49 52.5h1M60 52.5h1M63 52.5h1M65 52.5h1M70 52.5h1M76 52.5h1M24 53.5h1M28 53.5h1M55 53.5h1M7 54.5h1M20 54.5h1M33 54.5h1M58 54.5h1M61 54.5h1M4 55.5h1M12 55.5h1M14 55.5h1M25 55.5h2M39 55.5h1M43 55.5h1M50 55.5h1M52 55.5h1M58 55.5h1M5 56.5h2M11 56.5h1M21 56.5h1M23 56.5h1M39 56.5h1M44 56.5h1M51 56.5h1M46 57.5h1M49 57.5h1M53 58.5h1M66 58.5h2M71 58.5h1M29 59.5h1M34 59.5h1M47 59.5h1M55 59.5h1M68 59.5h1M70 59.5h1M72 59.5h3M33 60.5h1M35 60.5h1M37 60.5h1M45 60.5h1M58 60.5h1M60 60.5h1M73 60.5h1M10 61.5h1M17 61.5h1M20 61.5h1M37 61.5h1M45 61.5h1M52 61.5h1M57 61.5h1M60 61.5h2M75 61.5h1M8 62.5h1M33 62.5h1M37 62.5h1M43 62.5h1M46 62.5h2M52 62.5h1M60 62.5h1M23 63.5h1M25 63.5h1M33 63.5h4M43 63.5h1M53 63.5h1M16 64.5h1M23 64.5h1M35 64.5h1M42 64.5h1M16 65.5h1M22 65.5h1M26 65.5h1M35 65.5h1M41 65.5h1M31 66.5h1M35 66.5h1M40 66.5h2M41 67.5h1M50 67.5h1M70 67.5h1M29 68.5h1M31 68.5h1M70 68.5h1M11 69.5h1M19 70.5h1M38 70.5h1M48 70.5h1M58 70.5h1M18 71.5h1M28 71.5h1M30 71.5h1M35 71.5h1M43 71.5h1M58 71.5h1M19 72.5h1M28 72.5h2M43 72.5h2M59 72.5h1M17 73.5h2M44 73.5h1M64 73.5h1M53 77.5h1M30 78.5h1M53 78.5h1M48 80.5h1"/>
<path stroke="#1e6542" d="M32 1.5h1M26 2.5h1M49 2.5h1M28 3.5h1M49 3.5h2M27 4.5h2M36 6.5h2M37 7.5h1M52 7.5h1M16 8.5h1M63 8.5h1M21 9.5h1M32 9.5h1M36 9.5h1M41 9.5h2M44 9.5h1M60 9.5h1M24 10.5h2M40 10.5h1M44 10.5h1M59 10.5h1M19 11.5h1M22 11.5h1M25 11.5h3M32 11.5h1M46 11.5h1M11 12.5h1M23 12.5h1M27 12.5h1M30 12.5h2M39 12.5h1M41 12.5h1M46 12.5h1M60 12.5h1M68 12.5h1M32 13.5h1M44 13.5h1M30 14.5h1M32 14.5h1M16 15.5h1M31 15.5h1M53 15.5h1M65 15.5h1M16 16.5h2M46 16.5h3M52 16.5h1M17 17.5h1M33 17.5h2M36 17.5h1M40 17.5h1M48 17.5h1M56 17.5h1M58 17.5h1M64 17.5h1M71 17.5h1M18 18.5h2M22 18.5h1M26 18.5h1M32 18.5h1M35 18.5h2M41 18.5h1M56 18.5h1M60 18.5h1M64 18.5h2M70 18.5h1M6 19.5h1M32 19.5h1M64 19.5h1M71 19.5h1M9 20.5h1M19 20.5h1M28 20.5h2M39 20.5h1M44 20.5h1M60 20.5h1M63 20.5h1M5 21.5h1M9 21.5h1M20 21.5h1M23 21.5h1M30 21.5h1M45 21.5h1M47 21.5h1M50 21.5h1M62 21.5h1M8 22.5h1M10 22.5h3M26 22.5h1M30 22.5h1M32 22.5h1M42 22.5h1M48 22.5h1M51 22.5h1M60 22.5h1M14 23.5h1M21 23.5h1M32 23.5h1M36 23.5h1M59 23.5h1M22 24.5h1M28 24.5h1M33 24.5h1M67 24.5h1M73 24.5h1M18 25.5h2M23 25.5h1M43 25.5h1M53 25.5h1M64 25.5h2M41 26.5h1M67 26.5h1M15 27.5h5M27 27.5h1M31 27.5h1M46 27.5h1M60 27.5h1M62 27.5h1M66 27.5h1M73 27.5h1M76 27.5h1M2 28.5h2M18 28.5h2M27 28.5h1M59 28.5h1M65 28.5h1M3 29.5h2M12 29.5h1M18 29.5h1M35 29.5h1M39 29.5h1M48 29.5h1M6 30.5h1M9 31.5h1M11 31.5h1M15 31.5h2M51 31.5h1M54 31.5h1M16 32.5h2M25 32.5h1M34 32.5h1M38 32.5h1M43 32.5h1M46 32.5h1M67 32.5h1M71 32.5h1M18 33.5h1M59 33.5h1M62 33.5h1M71 33.5h2M20 34.5h1M24 34.5h2M74 34.5h1M79 34.5h2M62 35.5h1M64 35.5h1M68 35.5h1M70 35.5h1M79 35.5h2M2 36.5h1M5 36.5h1M8 36.5h2M67 36.5h1M75 36.5h3M1 37.5h1M14 37.5h1M18 37.5h1M2 38.5h2M19 38.5h1M51 38.5h1M55 38.5h1M63 38.5h2M7 39.5h5M22 39.5h1M24 39.5h1M31 39.5h1M50 39.5h1M65 39.5h1M14 40.5h1M16 40.5h1M33 40.5h1M47 40.5h1M64 40.5h1M66 40.5h1M15 41.5h1M30 41.5h1M49 41.5h1M56 41.5h1M58 41.5h1M69 41.5h5M16 42.5h2M25 42.5h1M29 42.5h1M61 42.5h1M77 42.5h2M62 43.5h1M66 43.5h1M79 43.5h1M3 44.5h3M13 44.5h1M71 44.5h2M75 44.5h1M78 44.5h1M0 45.5h2M10 45.5h1M12 45.5h1M16 45.5h1M18 45.5h1M0 46.5h2M6 46.5h1M55 46.5h2M60 46.5h1M8 47.5h2M18 47.5h1M21 47.5h1M62 47.5h1M9 48.5h1M13 48.5h1M34 48.5h1M37 48.5h1M42 48.5h1M46 48.5h1M55 48.5h1M63 48.5h2M26 49.5h1M29 49.5h1M64 49.5h2M69 49.5h1M71 49.5h1M74 50.5h1M32 51.5h1M41 51.5h1M45 51.5h1M62 51.5h1M68 51.5h1M76 51.5h2M15 52.5h1M21 52.5h1M53 52.5h1M61 52.5h2M77 52.5h2M4 53.5h1M7 53.5h1M14 53.5h1M18 53.5h1M20 53.5h1M34 53.5h1M49 53.5h1M53 53.5h1M61 53.5h5M13 54.5h1M39 54.5h1M15 55.5h2M27 55.5h1M37 55.5h1M57 55.5h1M61 55.5h2M7 56.5h1M13 56.5h1M47 56.5h1M52 56.5h1M58 56.5h1M21 57.5h1M44 57.5h1M48 57.5h1M59 57.5h1M66 57.5h1M20 58.5h1M29 58.5h1M32 58.5h1M38 58.5h1M48 58.5h1M50 58.5h1M54 58.5h1M68 58.5h3M72 58.5h1M18 59.5h1M30 59.5h1M33 59.5h1M35 59.5h1M50 59.5h1M57 59.5h1M60 59.5h1M71 59.5h1M75 59.5h1M17 60.5h1M20 60.5h1M36 60.5h1M41 60.5h1M51 60.5h2M61 60.5h1M71 60.5h1M9 61.5h1M16 61.5h1M48 61.5h1M74 61.5h1M10 62.5h1M15 62.5h2M20 62.5h1M24 62.5h1M39 62.5h1M44 62.5h2M48 62.5h1M54 62.5h1M58 62.5h1M61 62.5h2M9 63.5h1M16 63.5h1M22 63.5h1M24 63.5h1M32 63.5h1M40 63.5h1M44 63.5h1M46 63.5h2M63 63.5h1M28 64.5h1M32 64.5h3M63 64.5h2M15 65.5h1M27 65.5h1M49 65.5h1M64 65.5h1M48 66.5h1M50 66.5h1M36 67.5h1M48 67.5h1M12 68.5h1M20 68.5h1M34 68.5h1M39 68.5h1M41 68.5h1M49 68.5h2M53 68.5h1M57 68.5h1M69 68.5h1M34 69.5h1M48 69.5h1M53 69.5h3M58 69.5h1M61 69.5h1M21 70.5h1M36 70.5h1M40 70.5h1M55 70.5h2M20 71.5h1M36 71.5h1M38 71.5h2M44 71.5h1M48 71.5h1M59 71.5h1M17 72.5h1M64 72.5h1M28 73.5h1M43 73.5h1M43 74.5h2M52 76.5h2M30 77.5h2M52 77.5h1M31 78.5h1M54 78.5h1M48 79.5h1"/>
<path stroke="#286d3b" d="M31 0.5h1M33 0.5h1M38 0.5h1M41 0.5h1M33 1.5h1M41 1.5h1M49 1.5h1M51 1.5h1M32 2.5h2M40 2.5h2M55 2.5h1M26 3.5h1M32 3.5h2M55 3.5h1M26 4.5h1M49 4.5h1M54 4.5h2M37 5.5h1M54 5.5h1M21 7.5h1M35 7.5h1M53 7.5h1M17 8.5h1M22 8.5h1M31 8.5h2M43 8.5h3M53 8.5h1M31 9.5h1M38 9.5h1M43 9.5h1M18 10.5h2M26 10.5h1M31 10.5h1M33 10.5h1M36 10.5h2M46 10.5h1M52 10.5h1M20 11.5h1M29 11.5h3M39 11.5h1M42 11.5h1M44 11.5h1M49 11.5h1M58 11.5h1M61 11.5h1M68 11.5h1M12 12.5h1M20 12.5h1M25 12.5h2M28 12.5h2M32 12.5h1M44 12.5h1M58 12.5h1M67 12.5h1M69 12.5h1M11 13.5h1M25 13.5h1M28 13.5h2M59 13.5h1M67 13.5h1M10 14.5h2M14 14.5h2M26 14.5h1M44 14.5h1M50 14.5h1M65 14.5h1M11 15.5h1M15 15.5h1M17 15.5h1M26 15.5h1M32 15.5h1M38 15.5h1M40 15.5h1M48 15.5h2M12 16.5h1M18 16.5h1M35 16.5h3M40 16.5h1M55 16.5h1M62 16.5h1M72 16.5h1M18 17.5h3M32 17.5h1M35 17.5h1M61 17.5h1M23 18.5h1M42 18.5h1M48 18.5h1M57 18.5h1M66 18.5h1M73 18.5h1M9 19.5h2M15 19.5h1M18 19.5h1M36 19.5h1M38 19.5h1M48 19.5h1M55 19.5h1M59 19.5h1M65 19.5h1M69 19.5h1M8 20.5h1M12 20.5h1M15 20.5h1M21 20.5h1M32 20.5h1M48 20.5h1M51 20.5h1M69 20.5h1M13 21.5h1M21 21.5h1M28 21.5h2M31 21.5h2M43 21.5h1M48 21.5h2M52 21.5h1M60 21.5h1M15 22.5h1M21 22.5h1M25 22.5h1M28 22.5h1M33 22.5h1M10 23.5h1M13 23.5h1M15 23.5h1M28 23.5h3M33 23.5h1M68 23.5h2M21 24.5h1M30 24.5h1M39 24.5h1M76 24.5h1M42 25.5h1M44 25.5h1M47 25.5h1M51 25.5h2M63 25.5h1M69 25.5h1M72 25.5h1M77 25.5h1M16 26.5h3M24 26.5h1M51 26.5h2M61 26.5h1M63 26.5h1M71 26.5h2M77 26.5h1M2 27.5h4M7 27.5h3M61 27.5h1M1 28.5h1M40 28.5h1M56 28.5h1M61 28.5h1M74 28.5h1M1 29.5h2M15 29.5h1M34 29.5h1M54 29.5h1M57 29.5h1M64 29.5h1M4 30.5h2M12 30.5h1M15 30.5h1M28 30.5h1M33 30.5h4M41 30.5h1M54 30.5h1M62 30.5h1M17 31.5h1M27 31.5h1M37 31.5h1M41 31.5h1M45 31.5h1M15 32.5h1M24 32.5h1M26 32.5h1M37 32.5h1M60 32.5h2M72 32.5h1M13 33.5h1M17 33.5h1M24 33.5h2M58 33.5h1M73 33.5h1M76 33.5h3M29 34.5h1M45 34.5h1M62 34.5h1M66 34.5h1M3 35.5h1M13 35.5h1M37 35.5h1M63 35.5h1M69 35.5h1M6 36.5h2M11 36.5h1M15 36.5h1M17 36.5h1M46 36.5h1M68 36.5h1M74 36.5h1M0 37.5h1M33 37.5h1M37 37.5h1M54 37.5h1M59 37.5h1M61 37.5h1M66 37.5h1M1 38.5h1M33 38.5h1M65 38.5h1M6 39.5h1M12 39.5h4M21 39.5h1M33 39.5h1M30 40.5h1M36 40.5h1M44 40.5h1M50 40.5h1M47 41.5h1M59 41.5h1M65 41.5h4M74 41.5h1M15 42.5h1M47 42.5h1M79 42.5h1M14 43.5h1M19 43.5h1M21 43.5h1M26 43.5h1M43 43.5h1M47 43.5h1M80 43.5h1M6 44.5h1M12 44.5h1M34 44.5h1M63 44.5h1M65 44.5h1M69 44.5h1M73 44.5h2M11 45.5h1M17 45.5h1M43 45.5h1M67 45.5h1M77 45.5h1M14 46.5h1M18 46.5h1M35 46.5h1M51 46.5h1M2 47.5h3M7 47.5h1M22 47.5h1M55 47.5h2M63 47.5h1M67 47.5h1M8 48.5h1M19 48.5h2M43 48.5h1M54 48.5h1M56 48.5h1M65 48.5h1M35 49.5h1M39 49.5h1M43 49.5h1M53 49.5h1M63 49.5h1M18 50.5h1M26 50.5h1M39 50.5h1M44 50.5h4M52 50.5h1M65 50.5h1M68 50.5h1M75 50.5h2M16 51.5h1M23 51.5h1M26 51.5h1M46 51.5h1M65 51.5h1M78 51.5h2M6 52.5h1M19 52.5h1M24 52.5h1M40 52.5h1M79 52.5h1M19 53.5h1M71 53.5h3M75 53.5h4M3 54.5h1M8 54.5h2M17 54.5h1M19 54.5h1M28 54.5h2M56 54.5h1M62 54.5h3M3 55.5h1M8 55.5h1M11 55.5h1M17 55.5h1M28 55.5h2M33 55.5h1M36 55.5h1M38 55.5h1M4 56.5h1M41 56.5h1M50 56.5h1M59 56.5h1M11 57.5h2M47 57.5h1M50 57.5h3M65 57.5h1M67 57.5h1M70 57.5h1M47 58.5h1M52 58.5h1M55 58.5h1M59 58.5h1M65 58.5h1M20 59.5h1M28 59.5h1M31 59.5h2M37 59.5h1M48 59.5h2M51 59.5h2M59 59.5h1M67 59.5h1M11 60.5h1M29 60.5h1M32 60.5h1M48 60.5h1M59 60.5h1M65 60.5h1M68 60.5h1M72 60.5h1M11 61.5h1M15 61.5h1M21 61.5h1M25 61.5h1M32 61.5h1M42 61.5h1M44 61.5h1M62 61.5h1M65 61.5h1M70 61.5h2M7 62.5h1M14 62.5h1M23 62.5h1M32 62.5h1M38 62.5h1M57 62.5h1M19 63.5h1M45 63.5h1M48 63.5h1M60 63.5h3M8 64.5h1M18 64.5h1M25 64.5h1M40 64.5h1M43 64.5h3M62 64.5h1M68 64.5h1M31 65.5h2M40 65.5h1M42 65.5h1M48 65.5h1M54 65.5h1M63 65.5h1M65 65.5h1M69 65.5h1M15 66.5h1M30 66.5h1M36 66.5h1M54 66.5h1M65 66.5h2M69 66.5h2M13 67.5h1M21 67.5h1M51 67.5h2M55 67.5h1M69 67.5h1M11 68.5h1M13 68.5h1M22 68.5h1M36 68.5h1M48 68.5h1M51 68.5h2M54 68.5h2M60 68.5h1M68 68.5h1M12 69.5h1M19 69.5h1M22 69.5h1M31 69.5h1M36 69.5h1M38 69.5h1M41 69.5h1M49 69.5h3M60 69.5h1M28 70.5h1M34 70.5h1M43 70.5h2M47 70.5h1M49 70.5h1M54 70.5h1M61 70.5h2M37 71.5h1M42 71.5h1M49 71.5h1M27 72.5h1M35 72.5h3M48 72.5h2M58 72.5h1M63 72.5h1M27 73.5h1M45 73.5h1M59 73.5h1M26 75.5h1M43 75.5h1M25 76.5h2M31 76.5h1M54 76.5h1M25 77.5h1M47 77.5h2M54 77.5h1M25 78.5h1M39 78.5h2M47 78.5h2M29 79.5h1M31 79.5h1M39 79.5h1M47 79.5h1M38 80.5h2M42 80.5h2M47 80.5h1M49 80.5h1"/>
<path stroke="#447731" d="M39 0.5h1M45 0.5h1M37 1.5h1M45 1.5h1M31 2.5h1M37 2.5h2M42 2.5h1M48 2.5h1M51 2.5h1M54 2.5h1M24 3.5h2M37 3.5h3M41 3.5h1M48 3.5h1M57 3.5h1M21 4.5h1M25 4.5h1M29 4.5h1M36 4.5h1M38 4.5h1M44 4.5h1M46 4.5h1M48 4.5h1M57 4.5h1M29 5.5h1M32 5.5h4M46 5.5h3M53 5.5h1M56 5.5h1M58 5.5h1M26 6.5h2M29 6.5h6M42 6.5h3M47 6.5h1M52 6.5h1M55 6.5h3M17 7.5h1M22 7.5h1M26 7.5h2M30 7.5h1M38 7.5h1M44 7.5h1M54 7.5h2M57 7.5h1M15 8.5h1M33 8.5h1M35 8.5h1M38 8.5h1M54 8.5h2M60 8.5h1M64 8.5h1M14 9.5h1M16 9.5h1M18 9.5h1M20 9.5h1M26 9.5h1M28 9.5h1M54 9.5h1M57 9.5h1M59 9.5h1M63 9.5h1M66 9.5h1M15 10.5h1M20 10.5h1M29 10.5h1M49 10.5h1M55 10.5h2M58 10.5h1M62 10.5h1M65 10.5h1M67 10.5h2M12 11.5h1M15 11.5h1M36 11.5h1M52 11.5h1M66 11.5h2M13 12.5h1M66 12.5h1M15 13.5h1M20 13.5h2M33 13.5h1M41 13.5h1M48 13.5h1M60 13.5h1M9 14.5h1M12 14.5h1M21 14.5h1M27 14.5h2M33 14.5h1M35 14.5h2M38 14.5h1M46 14.5h1M64 14.5h1M67 14.5h1M14 15.5h1M18 15.5h1M22 15.5h1M27 15.5h1M33 15.5h2M37 15.5h1M44 15.5h1M47 15.5h1M55 15.5h1M66 15.5h1M69 15.5h1M15 16.5h1M22 16.5h1M31 16.5h1M49 16.5h1M56 16.5h1M59 16.5h1M67 16.5h1M69 16.5h1M13 17.5h1M22 17.5h1M24 17.5h1M68 17.5h1M70 17.5h1M6 18.5h1M15 18.5h1M51 18.5h1M74 18.5h1M11 19.5h1M16 19.5h1M73 19.5h2M13 20.5h2M31 20.5h1M36 20.5h1M57 20.5h3M64 20.5h1M19 21.5h1M36 21.5h1M68 21.5h1M7 22.5h1M29 22.5h1M45 22.5h1M59 22.5h1M67 22.5h1M9 23.5h1M16 23.5h1M20 23.5h1M22 23.5h1M26 23.5h1M47 23.5h1M65 23.5h1M67 23.5h1M70 23.5h1M74 23.5h1M76 23.5h1M16 24.5h3M27 24.5h1M31 24.5h2M42 24.5h1M52 24.5h1M55 24.5h1M70 24.5h1M72 24.5h1M15 25.5h2M70 25.5h2M78 25.5h1M68 26.5h1M78 26.5h1M67 27.5h1M69 27.5h1M78 27.5h1M14 28.5h1M33 28.5h1M49 28.5h1M51 28.5h1M67 28.5h3M72 28.5h1M76 28.5h1M13 29.5h1M33 29.5h1M41 29.5h1M58 29.5h1M1 30.5h2M22 30.5h1M48 30.5h1M12 31.5h1M34 31.5h1M71 31.5h1M78 31.5h1M9 32.5h1M11 32.5h1M23 32.5h1M36 32.5h1M79 32.5h1M12 33.5h1M16 33.5h1M63 33.5h1M80 33.5h1M0 34.5h1M13 34.5h1M22 34.5h1M37 34.5h1M44 34.5h1M65 34.5h1M0 35.5h2M12 35.5h1M17 35.5h1M0 36.5h1M16 36.5h1M69 36.5h2M79 36.5h1M31 37.5h1M60 37.5h1M62 38.5h1M66 38.5h1M16 39.5h1M18 39.5h2M56 39.5h2M22 40.5h1M58 40.5h1M23 41.5h2M61 41.5h2M64 41.5h1M14 42.5h1M18 42.5h1M20 43.5h1M49 43.5h1M1 44.5h1M10 44.5h2M64 44.5h1M80 44.5h1M63 45.5h1M68 45.5h1M79 45.5h2M15 46.5h1M36 46.5h1M43 46.5h1M58 46.5h1M67 46.5h1M80 46.5h1M0 47.5h1M17 47.5h1M64 47.5h1M68 47.5h1M1 48.5h1M44 48.5h1M57 48.5h1M69 48.5h1M71 48.5h1M2 49.5h1M9 49.5h1M46 49.5h1M68 49.5h1M32 50.5h1M58 50.5h1M78 50.5h2M22 51.5h1M39 51.5h1M47 51.5h1M67 51.5h1M4 52.5h1M8 52.5h1M11 52.5h3M29 52.5h1M31 52.5h1M47 52.5h1M66 52.5h1M2 53.5h1M11 53.5h1M13 53.5h1M2 54.5h1M12 54.5h1M2 55.5h1M9 55.5h2M64 55.5h2M8 56.5h1M10 56.5h1M25 56.5h1M28 56.5h1M38 56.5h1M48 56.5h2M53 56.5h1M62 56.5h3M4 57.5h1M6 57.5h1M10 57.5h1M13 57.5h1M15 57.5h1M33 57.5h1M54 57.5h1M58 57.5h1M60 57.5h1M64 57.5h1M71 57.5h1M13 58.5h1M21 58.5h1M35 58.5h1M51 58.5h1M73 58.5h1M12 59.5h1M44 59.5h1M61 59.5h1M16 60.5h1M21 60.5h3M44 60.5h1M49 60.5h1M66 60.5h2M6 61.5h2M64 61.5h1M69 61.5h1M6 62.5h1M29 62.5h1M65 62.5h1M74 62.5h1M10 63.5h1M12 63.5h1M56 63.5h1M58 63.5h1M67 63.5h1M11 64.5h1M13 64.5h1M21 64.5h1M24 64.5h1M31 64.5h1M49 64.5h1M58 64.5h1M65 64.5h1M11 65.5h1M14 65.5h1M25 65.5h1M33 65.5h1M36 65.5h1M43 65.5h1M46 65.5h2M53 65.5h1M58 65.5h1M62 65.5h1M66 65.5h1M13 66.5h1M16 66.5h1M34 66.5h1M42 66.5h1M44 66.5h2M47 66.5h1M52 66.5h2M59 66.5h1M68 66.5h1M71 66.5h1M20 67.5h1M32 67.5h1M39 67.5h1M47 67.5h1M59 67.5h2M65 67.5h1M14 68.5h1M67 68.5h1M13 69.5h2M28 69.5h1M44 69.5h1M65 69.5h1M68 69.5h1M12 70.5h2M15 70.5h1M18 70.5h1M22 70.5h1M24 70.5h2M31 70.5h1M51 70.5h1M60 70.5h1M65 70.5h1M14 71.5h1M17 71.5h1M21 71.5h1M23 71.5h1M26 71.5h1M52 71.5h1M54 71.5h1M60 71.5h1M62 71.5h1M64 71.5h1M66 71.5h1M16 72.5h1M20 72.5h1M25 72.5h2M42 72.5h1M45 72.5h1M47 72.5h1M65 72.5h1M23 73.5h1M25 73.5h2M36 73.5h1M42 73.5h1M50 73.5h1M53 73.5h2M58 73.5h1M63 73.5h1M23 74.5h3M28 74.5h1M33 74.5h1M36 74.5h3M46 74.5h6M53 74.5h2M22 75.5h1M24 75.5h1M27 75.5h1M32 75.5h3M45 75.5h4M51 75.5h1M23 76.5h1M32 76.5h1M34 76.5h1M36 76.5h1M42 76.5h1M44 76.5h1M51 76.5h1M55 76.5h1M59 76.5h1M23 77.5h1M32 77.5h1M39 77.5h1M41 77.5h3M55 77.5h2M26 78.5h1M29 78.5h1M32 78.5h1M38 78.5h1M42 78.5h2M49 78.5h1M35 79.5h1M43 79.5h1M31 80.5h1M35 80.5h1M40 80.5h2"/>
<path stroke="#54792f" d="M43 0.5h1M34 2.5h1M47 2.5h1M31 3.5h1M34 3.5h1M36 3.5h1M44 3.5h1M47 3.5h1M31 4.5h1M34 4.5h1M39 4.5h3M47 4.5h1M59 4.5h1M19 5.5h1M25 5.5h1M30 5.5h2M43 5.5h1M22 6.5h1M28 6.5h1M48 6.5h1M58 6.5h1M33 7.5h2M41 7.5h1M47 7.5h1M23 8.5h1M26 8.5h1M40 8.5h1M15 9.5h1M19 9.5h1M35 9.5h1M39 9.5h1M49 9.5h1M58 9.5h1M14 10.5h1M17 10.5h1M30 10.5h1M34 10.5h2M53 10.5h2M57 10.5h1M16 11.5h1M21 11.5h1M34 11.5h2M37 11.5h2M43 11.5h1M55 11.5h1M64 11.5h1M14 12.5h5M21 12.5h1M34 12.5h2M55 12.5h1M57 12.5h1M65 12.5h1M19 13.5h1M34 13.5h2M38 13.5h1M57 13.5h1M65 13.5h1M17 14.5h1M20 14.5h1M34 14.5h1M55 14.5h1M57 14.5h1M21 15.5h1M68 15.5h1M13 16.5h1M19 16.5h1M21 16.5h1M23 16.5h1M26 16.5h1M66 16.5h1M14 17.5h1M26 17.5h1M31 17.5h1M59 17.5h1M16 18.5h1M31 18.5h1M67 18.5h1M69 18.5h1M17 19.5h1M31 19.5h1M18 20.5h1M49 20.5h2M71 20.5h3M16 21.5h1M22 21.5h1M66 21.5h1M69 21.5h1M72 21.5h1M4 22.5h3M24 22.5h1M39 22.5h1M68 22.5h3M39 23.5h1M54 23.5h1M66 23.5h1M11 24.5h1M37 24.5h1M63 24.5h1M27 25.5h1M45 25.5h1M62 25.5h1M3 26.5h1M31 26.5h1M69 26.5h1M10 27.5h1M33 27.5h1M41 27.5h1M51 27.5h1M68 27.5h1M32 28.5h1M79 28.5h1M14 29.5h1M19 29.5h1M65 29.5h3M50 30.5h1M5 31.5h1M13 31.5h1M35 31.5h2M39 31.5h1M44 31.5h1M62 31.5h1M72 31.5h1M77 31.5h1M27 32.5h1M63 32.5h1M74 32.5h1M76 32.5h1M15 33.5h1M23 33.5h1M37 33.5h2M1 34.5h3M12 34.5h1M14 34.5h1M63 34.5h2M5 35.5h1M15 35.5h1M45 35.5h1M16 37.5h1M67 37.5h1M15 38.5h1M58 38.5h1M4 39.5h1M17 39.5h1M32 39.5h1M35 39.5h1M67 39.5h1M72 39.5h1M6 40.5h1M18 40.5h1M24 40.5h1M26 40.5h1M54 40.5h1M56 40.5h1M62 40.5h1M74 40.5h1M8 41.5h1M13 41.5h1M45 41.5h1M48 41.5h1M63 41.5h1M76 41.5h1M22 42.5h1M65 42.5h1M13 43.5h1M64 43.5h1M35 45.5h1M65 45.5h1M75 45.5h1M16 46.5h2M66 46.5h1M68 46.5h1M77 46.5h3M42 47.5h2M57 47.5h1M65 47.5h1M4 48.5h1M6 48.5h1M17 48.5h1M53 48.5h1M3 49.5h1M8 49.5h1M18 49.5h1M36 49.5h1M41 49.5h1M44 49.5h2M67 49.5h1M75 49.5h1M30 50.5h1M13 51.5h3M61 51.5h1M66 51.5h1M1 52.5h1M48 52.5h1M12 53.5h1M29 53.5h1M39 53.5h1M47 53.5h1M70 53.5h1M11 54.5h1M49 54.5h1M77 54.5h1M18 55.5h1M35 55.5h1M53 55.5h1M17 56.5h1M43 56.5h1M69 56.5h1M14 57.5h1M26 57.5h1M41 57.5h1M10 58.5h3M41 58.5h1M56 58.5h1M74 58.5h3M8 59.5h1M11 59.5h1M14 59.5h1M58 59.5h1M64 59.5h1M7 60.5h3M30 60.5h2M62 60.5h1M49 61.5h1M63 61.5h1M11 62.5h1M13 62.5h1M49 62.5h1M64 62.5h1M21 63.5h1M49 63.5h1M54 63.5h1M66 63.5h1M14 64.5h1M54 64.5h1M57 64.5h1M59 64.5h1M61 64.5h1M67 64.5h1M12 65.5h1M59 65.5h1M23 66.5h1M25 66.5h1M46 66.5h1M60 66.5h1M63 66.5h1M15 67.5h1M23 67.5h1M42 67.5h1M45 67.5h2M61 67.5h1M15 68.5h1M23 68.5h1M25 68.5h1M45 68.5h2M59 68.5h1M62 68.5h5M16 69.5h1M25 69.5h1M37 69.5h1M42 69.5h2M45 69.5h2M59 69.5h1M64 69.5h1M23 70.5h1M26 70.5h2M45 70.5h2M50 70.5h1M63 70.5h1M66 70.5h1M22 71.5h1M31 71.5h1M41 71.5h1M45 71.5h1M61 71.5h1M65 71.5h1M40 72.5h1M54 72.5h1M57 72.5h1M33 73.5h1M39 73.5h1M46 73.5h2M22 74.5h1M32 74.5h1M52 74.5h1M58 74.5h1M37 75.5h1M49 75.5h2M55 75.5h1M61 75.5h1M21 76.5h1M33 76.5h1M39 76.5h3M46 76.5h1M49 76.5h1M33 77.5h1M36 77.5h1M44 77.5h1M46 77.5h1M49 77.5h1M33 78.5h1M46 78.5h1M37 80.5h1M40 81.5h2"/>
<path stroke="#667a30" d="M36 0.5h1M44 0.5h1M47 0.5h1M28 1.5h1M34 1.5h1M36 1.5h1M43 1.5h2M47 1.5h2M36 2.5h1M44 2.5h1M29 3.5h1M42 3.5h1M51 3.5h1M35 4.5h1M43 4.5h1M22 5.5h1M39 5.5h1M42 5.5h1M50 5.5h1M23 7.5h1M50 7.5h1M58 7.5h1M18 8.5h1M24 8.5h1M30 8.5h1M34 8.5h1M47 8.5h1M58 8.5h1M34 9.5h1M65 9.5h1M64 10.5h1M17 11.5h1M56 11.5h2M22 12.5h1M38 12.5h1M56 12.5h1M61 12.5h1M16 13.5h1M18 13.5h1M55 13.5h2M19 14.5h1M37 14.5h1M47 14.5h1M68 14.5h1M10 15.5h1M13 15.5h1M20 15.5h1M29 15.5h1M67 15.5h1M70 15.5h1M11 16.5h1M20 16.5h1M30 16.5h1M70 16.5h2M15 17.5h1M41 17.5h1M49 17.5h1M51 17.5h1M69 17.5h1M7 18.5h3M12 19.5h1M66 19.5h1M68 19.5h1M75 19.5h1M17 20.5h1M38 20.5h1M56 20.5h1M67 20.5h1M17 21.5h1M53 21.5h1M56 21.5h1M70 21.5h2M16 22.5h1M22 22.5h1M43 22.5h2M52 22.5h1M55 22.5h1M65 22.5h1M71 22.5h1M43 23.5h1M55 23.5h1M64 23.5h1M77 23.5h1M43 24.5h1M60 24.5h1M12 25.5h1M46 25.5h1M61 25.5h1M4 26.5h1M6 26.5h3M13 26.5h1M33 26.5h1M12 28.5h1M70 28.5h2M77 28.5h2M55 29.5h1M59 29.5h1M68 29.5h1M72 29.5h1M55 30.5h1M63 30.5h1M0 31.5h2M4 31.5h1M7 31.5h1M18 31.5h1M28 31.5h2M67 31.5h1M79 31.5h1M30 32.5h1M50 32.5h1M58 32.5h1M66 32.5h1M75 32.5h1M80 32.5h1M11 33.5h1M43 33.5h1M16 34.5h1M16 35.5h1M32 37.5h1M38 37.5h1M75 37.5h1M80 37.5h1M17 38.5h1M0 39.5h1M3 39.5h1M52 39.5h1M73 39.5h1M81 39.5h1M21 40.5h1M59 40.5h1M7 41.5h1M28 41.5h1M77 41.5h1M80 41.5h2M63 42.5h1M0 43.5h1M5 43.5h1M42 43.5h1M48 43.5h1M64 45.5h1M64 46.5h1M37 47.5h1M69 47.5h1M0 48.5h1M5 48.5h1M14 48.5h1M22 48.5h1M30 48.5h1M50 48.5h1M1 49.5h1M13 49.5h1M51 49.5h2M62 49.5h1M73 49.5h1M76 49.5h1M79 49.5h2M17 50.5h1M25 50.5h1M8 51.5h1M12 51.5h1M21 51.5h1M25 51.5h1M2 52.5h2M9 52.5h2M68 52.5h1M47 54.5h1M67 54.5h1M72 54.5h3M76 54.5h1M19 55.5h1M34 55.5h1M68 55.5h1M20 56.5h1M37 56.5h1M3 57.5h1M16 57.5h1M25 57.5h1M37 57.5h1M9 58.5h1M15 58.5h1M25 58.5h1M28 58.5h1M36 58.5h2M58 58.5h1M64 58.5h1M9 59.5h2M24 59.5h1M27 59.5h1M63 59.5h1M13 60.5h1M24 60.5h1M42 60.5h1M63 60.5h1M5 61.5h1M12 61.5h1M14 61.5h1M68 61.5h1M71 62.5h3M11 63.5h1M29 63.5h1M31 63.5h1M39 63.5h1M65 63.5h1M9 64.5h2M50 64.5h1M60 64.5h1M69 64.5h1M10 65.5h1M13 65.5h1M51 65.5h1M60 65.5h1M67 65.5h1M70 65.5h1M12 66.5h1M33 66.5h1M43 66.5h1M61 66.5h1M24 67.5h2M62 67.5h1M64 67.5h1M19 68.5h1M24 68.5h1M42 68.5h1M58 68.5h1M23 69.5h2M63 69.5h1M16 70.5h1M15 71.5h1M46 71.5h1M22 72.5h1M33 72.5h1M46 72.5h1M50 72.5h1M56 72.5h1M62 72.5h1M22 73.5h1M30 73.5h1M57 73.5h1M30 75.5h1M38 75.5h1M41 75.5h1M58 75.5h1M37 76.5h1M45 76.5h1M29 77.5h1M38 77.5h1M51 77.5h1M36 78.5h1M44 78.5h1M32 79.5h2M36 79.5h2M44 79.5h1M46 79.5h1M52 79.5h1M33 80.5h1M36 80.5h1M44 80.5h1"/>
<path stroke="#7b7a35" d="M43 2.5h1M23 3.5h1M35 3.5h1M43 3.5h1M22 4.5h1M24 4.5h1M30 4.5h1M42 4.5h1M53 4.5h1M41 5.5h1M19 6.5h1M25 6.5h1M39 6.5h1M41 6.5h1M49 6.5h1M51 6.5h1M61 6.5h1M28 7.5h2M25 8.5h1M28 8.5h1M39 8.5h1M59 8.5h1M65 8.5h1M64 9.5h1M16 10.5h1M13 11.5h2M54 11.5h1M36 12.5h1M42 12.5h2M48 12.5h1M52 12.5h1M64 12.5h1M70 12.5h1M17 13.5h1M36 13.5h1M54 13.5h1M69 13.5h1M18 14.5h1M22 14.5h1M53 14.5h1M60 14.5h1M69 14.5h1M19 15.5h1M28 15.5h1M50 15.5h1M52 15.5h1M56 15.5h1M28 16.5h1M7 17.5h1M42 17.5h1M60 17.5h1M10 18.5h1M13 18.5h1M29 18.5h1M49 18.5h1M13 19.5h1M49 19.5h1M55 20.5h1M65 20.5h1M18 21.5h1M57 21.5h1M59 21.5h1M19 22.5h1M8 23.5h1M44 23.5h1M52 23.5h2M19 24.5h2M44 24.5h1M71 24.5h1M2 25.5h1M31 25.5h1M5 26.5h1M13 28.5h1M20 29.5h1M39 30.5h1M66 30.5h1M71 30.5h1M6 31.5h1M50 31.5h1M55 31.5h1M73 31.5h1M49 32.5h1M56 32.5h1M64 32.5h1M0 33.5h3M20 33.5h1M30 33.5h1M64 33.5h2M4 34.5h1M15 34.5h1M11 35.5h1M76 37.5h1M16 38.5h1M80 38.5h1M1 39.5h2M62 39.5h1M68 39.5h1M71 39.5h1M19 40.5h1M61 40.5h1M9 41.5h1M12 41.5h1M18 41.5h1M78 41.5h2M0 42.5h1M64 42.5h1M4 43.5h1M69 45.5h1M65 46.5h1M76 46.5h1M15 47.5h2M50 47.5h1M60 47.5h1M78 47.5h3M16 48.5h1M24 48.5h1M31 48.5h1M7 49.5h1M25 49.5h1M30 49.5h1M74 49.5h1M9 50.5h1M14 50.5h1M41 50.5h1M60 51.5h1M67 52.5h1M75 54.5h1M49 55.5h1M78 55.5h1M9 56.5h1M36 56.5h1M60 56.5h2M27 57.5h2M36 57.5h1M72 57.5h1M61 58.5h1M21 59.5h1M23 59.5h1M62 59.5h1M15 60.5h1M25 60.5h1M31 61.5h1M67 61.5h1M31 62.5h1M51 62.5h1M67 62.5h1M70 62.5h1M20 63.5h1M38 63.5h1M73 63.5h1M52 64.5h1M24 65.5h1M28 65.5h1M30 65.5h1M52 65.5h1M61 65.5h1M11 66.5h1M20 66.5h1M27 66.5h1M58 66.5h1M62 66.5h1M11 67.5h1M26 67.5h1M44 67.5h1M63 67.5h1M10 68.5h1M16 68.5h1M28 68.5h1M32 68.5h1M37 68.5h2M44 68.5h1M26 69.5h1M66 69.5h2M64 70.5h1M16 71.5h1M15 72.5h1M21 72.5h1M41 72.5h1M52 72.5h1M55 72.5h1M51 73.5h2M19 74.5h1M29 74.5h1M31 74.5h1M39 74.5h1M41 74.5h1M55 74.5h1M61 74.5h1M39 75.5h1M27 76.5h1M38 76.5h1M50 76.5h1M56 76.5h1M58 76.5h1M37 77.5h1M45 77.5h1M57 77.5h1M37 78.5h1"/>
<path stroke="#8d7a3d" d="M34 0.5h1M48 0.5h1M29 2.5h1M35 2.5h1M51 4.5h1M40 5.5h1M52 5.5h1M59 5.5h1M50 6.5h1M39 7.5h2M60 7.5h1M19 8.5h1M49 8.5h1M30 9.5h1M47 9.5h1M47 10.5h1M63 10.5h1M47 11.5h1M62 11.5h1M54 12.5h1M47 13.5h1M64 13.5h1M41 14.5h1M56 14.5h1M70 14.5h1M71 15.5h2M7 16.5h1M14 16.5h1M12 17.5h1M25 17.5h1M68 18.5h1M30 19.5h1M37 20.5h1M74 20.5h1M63 21.5h1M73 21.5h1M56 22.5h1M76 22.5h1M5 23.5h2M17 23.5h1M45 23.5h2M57 23.5h1M71 23.5h1M73 23.5h1M23 24.5h1M38 24.5h1M13 27.5h1M69 29.5h1M71 29.5h1M73 29.5h1M40 30.5h1M56 30.5h1M65 30.5h1M67 30.5h1M70 30.5h1M72 30.5h1M2 31.5h1M22 31.5h1M59 31.5h1M80 31.5h1M0 32.5h2M19 32.5h1M22 32.5h1M28 32.5h1M3 33.5h1M10 33.5h1M22 33.5h1M26 33.5h1M11 34.5h1M6 35.5h1M8 35.5h1M45 36.5h1M74 37.5h1M79 37.5h1M31 38.5h1M61 38.5h1M67 38.5h1M55 39.5h1M58 39.5h1M70 39.5h1M80 39.5h1M5 40.5h1M20 40.5h1M25 40.5h1M55 40.5h1M60 40.5h1M75 40.5h1M81 40.5h1M10 41.5h1M22 41.5h1M25 41.5h1M13 42.5h1M19 42.5h1M49 42.5h1M1 43.5h1M6 43.5h1M35 44.5h1M72 45.5h1M74 45.5h1M69 46.5h1M54 47.5h1M58 47.5h1M70 47.5h1M77 47.5h1M52 48.5h1M58 48.5h1M61 48.5h1M79 48.5h2M0 49.5h1M21 49.5h1M58 49.5h1M78 49.5h1M8 50.5h1M10 50.5h1M13 50.5h1M15 50.5h1M24 50.5h1M40 50.5h1M7 51.5h1M9 51.5h1M11 51.5h1M67 53.5h1M42 56.5h1M57 56.5h1M7 57.5h1M9 57.5h1M23 57.5h1M34 57.5h2M63 57.5h1M74 57.5h2M4 58.5h1M24 58.5h1M7 59.5h1M17 59.5h1M6 60.5h1M43 60.5h1M50 61.5h1M12 62.5h1M55 63.5h1M68 63.5h1M66 64.5h1M73 64.5h1M8 65.5h2M10 66.5h1M24 66.5h1M39 66.5h1M16 67.5h1M33 67.5h1M26 68.5h1M18 69.5h1M33 69.5h1M17 70.5h1M33 70.5h1M33 71.5h1M50 71.5h1M31 72.5h1M61 72.5h1M20 73.5h1M40 73.5h2M30 74.5h1M21 75.5h1M28 75.5h1M40 75.5h1M29 76.5h1M45 78.5h1M51 78.5h1M50 79.5h1M32 80.5h1M46 80.5h1"/>
<path stroke="#a1794a" d="M30 1.5h1M35 1.5h1M52 1.5h1M30 2.5h1M30 3.5h1M51 5.5h1M23 6.5h1M19 7.5h1M25 7.5h1M48 7.5h1M59 7.5h1M29 9.5h1M53 11.5h1M63 11.5h1M37 12.5h1M47 12.5h1M22 13.5h2M37 13.5h1M51 14.5h1M29 16.5h1M30 17.5h1M50 19.5h1M67 19.5h1M66 20.5h1M54 21.5h2M58 21.5h1M54 22.5h1M72 22.5h1M25 23.5h1M56 23.5h1M10 24.5h1M9 26.5h1M25 26.5h2M11 27.5h1M32 27.5h1M41 28.5h1M70 29.5h1M19 30.5h1M64 30.5h1M68 30.5h2M78 30.5h1M3 31.5h1M49 31.5h1M63 31.5h1M66 31.5h1M8 32.5h1M57 32.5h1M65 32.5h1M29 33.5h1M5 34.5h1M7 35.5h1M9 35.5h1M53 37.5h1M68 37.5h1M59 38.5h1M79 38.5h1M69 39.5h1M74 39.5h1M79 39.5h1M80 40.5h1M0 41.5h2M6 41.5h1M11 41.5h1M1 42.5h1M21 42.5h1M12 43.5h1M27 43.5h1M71 45.5h1M73 45.5h1M75 46.5h1M51 47.5h1M15 48.5h1M23 48.5h1M72 48.5h1M14 49.5h1M17 49.5h1M31 49.5h1M77 49.5h1M2 50.5h1M11 50.5h2M16 50.5h1M61 50.5h1M10 51.5h1M39 52.5h1M48 53.5h1M69 53.5h1M54 54.5h2M71 54.5h1M70 56.5h1M24 57.5h1M55 57.5h1M8 58.5h1M26 58.5h1M22 59.5h1M25 59.5h2M14 60.5h1M13 61.5h1M30 61.5h1M50 63.5h1M51 64.5h1M29 66.5h1M43 67.5h1M57 67.5h2M33 68.5h1M43 68.5h1M17 69.5h1M27 69.5h1M51 71.5h1M21 73.5h1M32 73.5h1M55 73.5h1M61 73.5h1M57 74.5h1M29 75.5h1M50 77.5h1M50 78.5h1M28 79.5h1M45 79.5h1"/>
<path stroke="#b17959" d="M53 3.5h1M40 6.5h1M59 6.5h1M18 7.5h1M24 7.5h1M49 7.5h1M48 9.5h1M12 10.5h2M62 12.5h2M61 13.5h1M63 14.5h1M71 14.5h1M8 15.5h1M25 15.5h1M41 15.5h1M62 15.5h1M41 16.5h1M43 16.5h1M61 16.5h1M8 17.5h1M29 17.5h1M11 18.5h1M30 18.5h1M50 18.5h1M65 21.5h1M17 22.5h2M58 22.5h1M62 22.5h1M7 23.5h1M19 23.5h1M72 23.5h1M6 24.5h1M26 24.5h1M45 24.5h2M3 25.5h1M7 25.5h1M24 25.5h1M32 25.5h1M12 26.5h1M49 29.5h2M78 29.5h2M21 30.5h1M59 30.5h1M77 30.5h1M79 30.5h1M64 31.5h2M76 31.5h1M2 32.5h1M4 33.5h1M9 33.5h1M21 33.5h1M27 34.5h2M10 35.5h1M51 35.5h1M72 37.5h2M77 37.5h2M38 38.5h1M54 38.5h1M60 38.5h1M53 39.5h1M61 39.5h1M78 39.5h1M0 40.5h5M76 40.5h4M2 41.5h1M19 41.5h1M27 41.5h1M20 42.5h1M26 42.5h1M42 42.5h1M2 43.5h2M7 43.5h2M29 45.5h1M70 45.5h1M52 46.5h2M59 47.5h1M71 47.5h1M76 47.5h1M78 48.5h1M4 49.5h1M15 49.5h2M1 50.5h1M3 50.5h1M21 50.5h1M59 50.5h1M1 51.5h2M30 51.5h2M68 54.5h1M48 55.5h1M56 55.5h1M73 55.5h1M77 55.5h1M34 56.5h2M54 56.5h1M74 56.5h1M8 57.5h1M61 57.5h1M73 57.5h1M18 58.5h1M22 58.5h1M62 58.5h2M15 59.5h1M30 62.5h1M50 62.5h1M69 62.5h1M51 63.5h1M72 63.5h1M19 64.5h1M37 64.5h1M39 64.5h1M18 65.5h1M39 65.5h1M55 65.5h1M72 65.5h1M9 66.5h1M17 66.5h1M19 67.5h1M17 68.5h2M67 70.5h2M32 71.5h1M31 73.5h1M56 73.5h1M62 73.5h1M21 74.5h1M40 74.5h1M27 77.5h1"/>
<path stroke="#be796a" d="M35 0.5h1M29 1.5h1M52 2.5h2M23 4.5h1M24 5.5h1M29 8.5h1M48 8.5h1M48 10.5h1M48 11.5h1M53 12.5h1M43 13.5h1M52 13.5h2M9 15.5h1M23 15.5h1M60 15.5h1M50 16.5h2M50 17.5h1M23 22.5h1M53 22.5h1M57 22.5h1M75 22.5h1M4 23.5h1M37 23.5h1M7 24.5h1M9 24.5h1M4 25.5h3M8 25.5h1M12 27.5h1M74 29.5h1M77 29.5h1M49 30.5h1M57 30.5h1M19 31.5h1M21 31.5h1M74 31.5h1M5 32.5h1M21 32.5h1M35 32.5h1M28 33.5h1M45 33.5h1M52 35.5h1M52 37.5h1M69 37.5h1M71 37.5h1M54 39.5h1M59 39.5h1M75 39.5h1M77 39.5h1M3 41.5h1M5 41.5h1M21 41.5h1M26 41.5h1M9 43.5h1M11 43.5h1M28 43.5h1M28 45.5h1M35 47.5h1M52 47.5h1M45 48.5h1M59 48.5h1M75 48.5h1M6 49.5h1M59 49.5h1M61 49.5h1M23 50.5h1M31 50.5h1M3 51.5h1M6 51.5h1M68 53.5h1M72 55.5h1M74 55.5h3M71 56.5h1M73 56.5h1M43 57.5h1M76 57.5h1M5 58.5h1M23 58.5h1M27 58.5h1M57 58.5h1M30 63.5h1M29 64.5h2M20 65.5h1M57 65.5h1M71 65.5h1M27 67.5h2M37 67.5h1M27 68.5h1M32 69.5h1M32 70.5h1M32 72.5h1M51 72.5h1M56 75.5h1M57 76.5h1M27 78.5h2M51 79.5h1M45 80.5h1"/>
<path stroke="#c97b7f" d="M23 5.5h1M61 5.5h1M24 6.5h1M63 13.5h1M70 13.5h1M24 14.5h1M8 16.5h1M9 17.5h1M38 21.5h1M73 22.5h1M3 23.5h1M18 23.5h1M8 24.5h1M62 24.5h1M11 25.5h1M10 26.5h1M50 28.5h1M76 29.5h1M73 30.5h1M20 31.5h1M3 32.5h2M20 32.5h1M29 32.5h1M5 33.5h1M6 34.5h1M10 34.5h1M70 37.5h1M52 38.5h1M72 38.5h5M78 38.5h1M46 39.5h1M60 39.5h1M76 39.5h1M4 41.5h1M20 41.5h1M34 41.5h1M2 42.5h1M4 42.5h5M28 42.5h1M10 43.5h1M70 46.5h1M74 46.5h1M75 47.5h1M51 48.5h1M60 48.5h1M76 48.5h2M60 49.5h1M7 50.5h1M4 51.5h1M30 52.5h1M70 54.5h1M69 55.5h1M18 56.5h1M72 56.5h1M62 57.5h1M77 57.5h1M7 58.5h1M42 59.5h1M71 63.5h1M72 64.5h1M56 66.5h1M10 67.5h1M17 67.5h1M56 74.5h1M19 75.5h1M57 75.5h1"/>
<path stroke="#d07e93" d="M52 3.5h1M52 4.5h1M18 6.5h1M60 6.5h1M52 14.5h1M51 15.5h1M60 16.5h1M10 17.5h1M12 18.5h1M64 21.5h1M74 22.5h1M61 23.5h1M3 24.5h1M5 24.5h1M9 25.5h1M11 26.5h1M32 26.5h1M75 29.5h1M20 30.5h1M40 31.5h1M6 32.5h1M71 38.5h1M77 38.5h1M3 42.5h1M9 42.5h1M74 48.5h1M40 49.5h1M60 50.5h1M5 51.5h1M48 54.5h1M69 54.5h1M71 55.5h1M75 56.5h1M77 56.5h1M19 57.5h1M6 58.5h1M16 59.5h1M68 62.5h1M70 63.5h1M20 64.5h1M29 65.5h1M28 66.5h1M20 74.5h1M62 74.5h1M28 76.5h1M28 77.5h1"/>
<path stroke="#d484a9" d="M60 5.5h1M62 13.5h1M10 16.5h1M11 17.5h1M75 20.5h1M37 21.5h1M74 21.5h1M64 22.5h1M63 23.5h1M10 25.5h1M26 25.5h1M58 30.5h1M56 31.5h1M58 31.5h1M75 31.5h1M7 32.5h1M6 33.5h1M8 33.5h1M27 33.5h1M51 36.5h1M32 38.5h1M68 38.5h1M12 42.5h1M48 42.5h1M29 44.5h1M53 47.5h1M72 47.5h1M74 47.5h1M73 48.5h1M5 49.5h1M22 49.5h1M24 49.5h1M22 50.5h1M54 55.5h1M70 55.5h1M17 57.5h1M16 58.5h1M6 59.5h1M43 59.5h1M5 60.5h1M69 63.5h1M70 64.5h1M18 67.5h1M20 75.5h1"/>
<path stroke="#d48abb" d="M61 14.5h1M9 16.5h1M24 16.5h1M76 21.5h1M4 24.5h1M61 24.5h1M76 30.5h1M7 34.5h1M9 34.5h1M52 36.5h1M70 38.5h1M45 39.5h1M35 41.5h1M10 42.5h1M28 44.5h1M71 46.5h1M73 46.5h1M4 50.5h1M19 56.5h1M76 56.5h1M4 59.5h1M56 64.5h1M71 64.5h1M19 66.5h1"/>
<path stroke="#d392cb" d="M42 13.5h1M23 14.5h1M43 14.5h1M42 16.5h1M38 23.5h1M7 33.5h1M8 34.5h1M53 38.5h1M27 42.5h1M72 46.5h1M73 47.5h1M42 57.5h1M38 64.5h1M37 66.5h1M57 66.5h1M38 67.5h1"/>
<path stroke="#cf9ddb" d="M62 14.5h1M43 15.5h1M61 15.5h1M25 16.5h1M37 22.5h1M63 22.5h1M23 23.5h1M57 31.5h1M44 33.5h1M69 38.5h1M11 42.5h1M36 47.5h1M23 49.5h1M57 57.5h1M17 58.5h1M43 58.5h1M55 64.5h1M19 65.5h1M37 65.5h1M18 66.5h1"/>
<path stroke="#cba8e5" d="M38 22.5h1M74 30.5h1M6 50.5h1M42 58.5h1"/>
<path stroke="#c6b4ee" d="M75 21.5h1M25 25.5h1M55 55.5h1M5 59.5h1"/>
<path stroke="#c3bff2" d="M62 23.5h1M25 24.5h1M55 56.5h1M18 57.5h1"/>
<path stroke="#c1caf3" d="M75 30.5h1M45 32.5h1M35 48.5h1M5 50.5h1"/>
<path stroke="#c2d6f3" d="M24 15.5h1M42 15.5h1M24 23.5h1M34 40.5h1M46 40.5h1M56 57.5h1M38 65.5h1M56 65.5h1"/>
<path stroke="#c5dff2" d="M42 14.5h1M24 24.5h1M44 32.5h1M36 48.5h1M56 56.5h1M38 66.5h1"/>
<path stroke="#ffffff" d="M35 40.5h1M45 40.5h1"/>
</g>
<rect x="622.5" y="150.5" width="356.0" height="350.0" fill="none" stroke="#000" stroke-width="1.3"/>
<text x="664.44" y="519.60" font-size="17.09" textLength="19.15" lengthAdjust="spacingAndGlyphs">40</text>
<text x="597.29" y="203.90" font-size="17.09" textLength="19.15" lengthAdjust="spacingAndGlyphs">40</text>
<text x="727.24" y="519.60" font-size="17.09" textLength="19.15" lengthAdjust="spacingAndGlyphs">20</text>
<text x="597.29" y="266.90" font-size="17.09" textLength="19.15" lengthAdjust="spacingAndGlyphs">20</text>
<text x="795.30" y="519.60" font-size="17.09" textLength="9.18" lengthAdjust="spacingAndGlyphs">0</text>
<text x="607.30" y="329.90" font-size="17.09" textLength="9.18" lengthAdjust="spacingAndGlyphs">0</text>
<text x="845.98" y="519.60" font-size="17.09" textLength="33.08" lengthAdjust="spacingAndGlyphs">−20</text>
<text x="583.33" y="392.90" font-size="17.09" textLength="33.08" lengthAdjust="spacingAndGlyphs">−20</text>
<text x="908.98" y="519.60" font-size="17.09" textLength="33.08" lengthAdjust="spacingAndGlyphs">−40</text>
<text x="583.33" y="455.90" font-size="17.09" textLength="33.08" lengthAdjust="spacingAndGlyphs">−40</text>
<path d="M674.5 500.5v-6M674.5 150.5v6M622.5 199.5h6M978.5 199.5h-6M737.5 500.5v-6M737.5 150.5v6M622.5 262.5h6M978.5 262.5h-6M800.5 500.5v-6M800.5 150.5v6M622.5 325.5h6M978.5 325.5h-6M863.5 500.5v-6M863.5 150.5v6M622.5 388.5h6M978.5 388.5h-6M926.5 500.5v-6M926.5 150.5v6M622.5 451.5h6M978.5 451.5h-6" stroke="#000" stroke-width="0.7" fill="none"/>
<text x="741.80" y="545.80" font-size="17.20" textLength="11.80" lengthAdjust="spacingAndGlyphs" class="se">Δ</text>
<text x="754.60" y="545.80" font-size="18.50" textLength="9.00" lengthAdjust="spacingAndGlyphs" class="se" font-style="italic">α</text>
<path d="M774.9 541.5h14.2m-3.6 -2.6q1.2 2 3.6 2.6q-2.4 0.6 -3.6 2.6" fill="none" stroke="#000" stroke-width="0.75"/>
<text x="796.30" y="545.80" font-size="17.42" textLength="64.10" lengthAdjust="spacingAndGlyphs">E (mas)</text>
<g transform="translate(571.2,383.5) rotate(-90)">
<text x="0.00" y="0.00" font-size="17.20" textLength="12.00" lengthAdjust="spacingAndGlyphs" class="se">Δ</text>
<text x="13.20" y="0.00" font-size="18.50" textLength="8.40" lengthAdjust="spacingAndGlyphs" class="se" font-style="italic">δ</text>
<path d="M30 -4.3h12.2m-3.6 -2.6q1.2 2 3.6 2.6q-2.4 0.6 -3.6 2.6" fill="none" stroke="#000" stroke-width="0.75"/>
<text x="52.35" y="0.00" font-size="17.42" textLength="64.35" lengthAdjust="spacingAndGlyphs">N (mas)</text>
</g>
<text y="142.60" font-size="20.81"><tspan x="713.35" textLength="81.97" lengthAdjust="spacingAndGlyphs">Method:</tspan> <tspan x="802.55" textLength="85.67" lengthAdjust="spacingAndGlyphs">injection</tspan></text>
<defs><linearGradient id="cb534" x1="0" y1="0" x2="0" y2="1"><stop offset="0.0000" stop-color="#ffffff"/><stop offset="0.0417" stop-color="#edfaf4"/><stop offset="0.0833" stop-color="#d9f2ef"/><stop offset="0.1250" stop-color="#cbe8f0"/><stop offset="0.1667" stop-color="#c3d9f3"/><stop offset="0.2083" stop-color="#c2c6f3"/><stop offset="0.2500" stop-color="#c6b4ee"/><stop offset="0.2917" stop-color="#cea1df"/><stop offset="0.3333" stop-color="#d490c6"/><stop offset="0.3750" stop-color="#d484a9"/><stop offset="0.4167" stop-color="#cc7c86"/><stop offset="0.4583" stop-color="#b97964"/><stop offset="0.5000" stop-color="#a1794a"/><stop offset="0.5417" stop-color="#817a37"/><stop offset="0.5833" stop-color="#607a2f"/><stop offset="0.6250" stop-color="#447731"/><stop offset="0.6667" stop-color="#2b6f39"/><stop offset="0.7083" stop-color="#1c6344"/><stop offset="0.7500" stop-color="#16534c"/><stop offset="0.7917" stop-color="#16404e"/><stop offset="0.8333" stop-color="#192d48"/><stop offset="0.8750" stop-color="#1b1e3b"/><stop offset="0.9167" stop-color="#181027"/><stop offset="0.9583" stop-color="#0f0611"/><stop offset="1.0000" stop-color="#000000"/></linearGradient></defs>
<rect x="1000.5" y="150.5" width="18" height="350" fill="url(#cb534)" stroke="#000" stroke-width="1.3"/>
<text x="1022.00" y="188.79" font-size="17.09" textLength="24.44" lengthAdjust="spacingAndGlyphs">0.9</text>
<text x="1022.00" y="234.59" font-size="17.09" textLength="24.44" lengthAdjust="spacingAndGlyphs">0.8</text>
<text x="1022.00" y="280.39" font-size="17.09" textLength="24.44" lengthAdjust="spacingAndGlyphs">0.7</text>
<text x="1022.00" y="326.19" font-size="17.09" textLength="24.44" lengthAdjust="spacingAndGlyphs">0.6</text>
<text x="1022.00" y="371.99" font-size="17.09" textLength="24.44" lengthAdjust="spacingAndGlyphs">0.5</text>
<text x="1022.00" y="417.79" font-size="17.09" textLength="24.44" lengthAdjust="spacingAndGlyphs">0.4</text>
<text x="1022.00" y="463.59" font-size="17.09" textLength="24.44" lengthAdjust="spacingAndGlyphs">0.3</text>
<path d="M1018.5 184.5h-6M1018.5 230.5h-6M1018.5 275.5h-6M1018.5 321.5h-6M1018.5 367.5h-6M1018.5 413.5h-6M1018.5 459.5h-6" stroke="#000" stroke-width="0.7" fill="none"/>
<path d="M251.5 570.5V920.5M414.5 570.5V920.5M578.5 570.5V920.5M741.5 570.5V920.5M904.5 570.5V920.5M88.5 628.5H1067.5M88.5 687.5H1067.5M88.5 745.5H1067.5M88.5 803.5H1067.5M88.5 862.5H1067.5" stroke="#000" stroke-width="0.7" stroke-dasharray="1.4 4.16" fill="none"/>
<polyline points="130.4,855.4 138.0,855.4 150.6,867.0 154.0,790.6 157.6,789.4 167.6,820.4 176.0,824.4 179.0,810.0 182.0,804.0 189.0,745.0 199.0,690.0 201.0,695.0 206.6,769.0 212.4,725.6 216.6,726.6 220.0,758.0 223.0,758.0 228.0,747.6 230.0,749.0 236.0,786.0 242.0,698.4 250.0,696.4 257.0,694.4 260.6,695.4 264.4,657.4 269.6,657.4 275.0,688.0 288.0,686.6 291.0,651.0 296.0,628.0 298.0,628.6 301.0,659.0 305.6,723.0 309.0,723.0 312.4,712.6 315.0,713.0 318.0,723.0 322.0,725.0 324.4,773.0 330.0,784.0 333.0,787.0 335.0,794.0 338.0,820.0 340.0,820.0 345.0,780.0 347.0,781.0 353.0,786.4 357.0,787.0 361.0,811.0 364.0,752.4 367.0,751.6 370.0,732.4 378.0,732.0 381.6,745.0 384.0,746.4 387.0,744.0 394.0,725.0 397.0,724.4 400.0,721.0 407.0,727.6 409.0,727.0 415.0,734.0 419.0,723.0 422.4,723.0 426.0,729.0 430.0,768.0 432.0,748.0 433.0,759.0 434.0,745.0 438.0,739.0 441.0,747.0 442.0,745.0 446.0,726.0 453.0,725.6 456.0,732.0 458.0,734.0 462.0,744.0 467.0,746.0 469.0,750.0 473.0,815.0 477.0,798.0 479.0,793.0 481.0,784.0 482.4,752.0 487.0,752.0 490.0,780.0 493.0,788.0 494.4,789.0 498.6,801.0 504.0,775.0 509.0,777.0 512.4,781.0 516.0,782.0 521.0,768.0 523.0,765.0 529.0,747.4 531.0,747.6 537.0,755.0 543.0,756.6 543.0,756.4 551.0,724.4 556.0,725.0 563.0,751.4 565.0,751.4 573.0,726.6 577.0,727.0 581.0,751.4 583.0,753.6 586.4,764.4 592.0,762.0 596.0,754.0 600.0,755.0 604.0,756.4 609.0,775.0 611.0,777.6 614.0,773.0 617.6,761.0 621.6,761.0 625.0,749.6 628.0,750.6 633.0,752.4 640.0,764.0 643.0,764.4 645.4,763.0 650.0,767.6 654.0,767.0 658.0,763.6 664.0,763.6 670.0,759.0 673.0,758.0 676.0,749.6 683.0,750.6 688.4,761.0 695.0,757.0 699.0,756.4 702.0,763.6 705.4,767.6 712.0,765.0 717.0,757.0 720.0,756.4 728.0,762.0 733.6,762.0 736.0,754.4 741.0,757.0 746.0,758.0 749.6,767.0 754.0,765.0 759.0,760.0 763.6,755.6 769.0,761.0 771.6,771.0 776.0,773.6 780.0,774.4 785.0,773.6 795.0,776.0 799.0,780.0 801.6,779.0 803.6,770.0 806.0,768.4 810.0,768.4 819.0,771.0 824.0,774.4 825.0,768.0 832.0,765.0 838.0,770.4 842.0,768.0 849.0,769.6 852.0,768.0 857.0,753.0 860.0,752.4 868.0,763.0 871.0,762.0 874.0,759.0 879.0,764.0 887.0,755.0 888.0,750.0 891.0,746.4 895.0,752.4 901.0,769.0 904.0,757.0 908.0,756.0 913.0,756.0 916.0,760.0 923.0,763.0 929.0,757.0 931.0,750.0 935.6,748.4 940.0,760.0 944.0,755.0 949.0,751.6 954.0,755.0 962.0,762.0 967.0,757.0 970.0,758.4 974.0,758.0 980.0,761.6 991.0,761.6" fill="none" stroke="#0000ff" stroke-opacity="0.5" stroke-width="4.17" stroke-linejoin="round" stroke-linecap="butt"/>
<polyline points="130.4,704.4 138.0,704.4 150.4,856.0 154.4,838.4 158.0,837.6 167.6,841.4 177.0,829.0 182.0,814.0 184.6,790.0 189.3,745.0 197.4,690.0 197.6,679.4 200.4,678.6 207.0,658.0 210.0,635.0 212.6,613.0 217.0,615.0 219.6,687.0 221.0,729.0 223.0,729.0 227.0,678.0 229.0,677.0 236.0,661.0 243.0,654.4 249.0,654.0 256.0,639.6 261.0,640.6 263.0,665.0 264.4,694.6 266.4,694.4 270.0,661.0 274.0,658.6 278.0,657.0 284.4,606.6 288.0,605.4 291.6,585.4 293.0,609.0 296.0,667.0 298.0,671.0 305.6,705.0 307.0,691.0 310.0,679.0 313.0,674.4 318.0,674.4 323.0,687.0 326.0,735.0 331.0,737.0 337.0,734.4 338.0,734.4 341.0,738.0 346.0,753.0 349.0,738.0 353.0,720.4 357.0,723.0 360.6,708.0 362.0,710.0 365.0,730.0 367.0,729.0 369.0,718.0 375.0,708.4 378.0,708.4 382.0,741.0 384.0,742.4 388.0,741.0 395.0,729.0 399.0,731.0 406.0,741.0 409.0,722.4 416.0,723.4 422.0,730.6 426.0,727.0 430.0,709.0 433.0,709.6 438.0,736.0 441.0,754.0 444.4,718.4 446.0,720.0 449.6,719.0 452.4,744.0 455.0,765.6 457.0,765.0 462.0,758.0 467.0,758.0 473.0,762.0 478.0,759.6 488.0,759.6 492.0,754.0 495.0,753.6 500.0,760.0 504.0,770.0 506.0,769.0 507.0,754.0 511.0,742.0 516.0,741.0 522.0,745.6 524.0,744.0 529.0,724.0 532.0,718.0 534.4,717.4 538.0,733.0 542.0,738.0 542.4,739.0 547.0,724.0 551.0,709.0 552.0,710.0 556.0,714.0 560.0,706.0 565.0,704.4 570.0,712.4 576.0,710.0 578.0,709.6 581.0,675.0 585.0,675.6 588.0,679.0 591.0,701.0 593.0,706.0 595.6,714.0 600.0,691.0 604.0,689.0 610.0,709.0 614.0,714.0 618.0,723.4 621.0,724.0 625.0,729.4 630.0,712.0 632.0,711.6 635.0,712.6 639.4,727.0 642.0,729.0 646.0,733.6 649.6,726.6 657.0,726.4 661.0,710.4 666.0,710.4 670.0,710.0 676.0,722.4 680.0,712.4 683.0,711.0 687.0,694.4 690.0,695.0 692.4,662.0 693.4,658.0 694.6,662.0 697.0,696.0 699.0,703.6 702.0,704.6 706.0,727.0 711.6,726.0 714.0,688.0 715.6,660.0 718.0,684.0 720.0,688.0 724.0,693.0 727.6,723.4 730.0,721.0 733.0,719.0 737.0,697.0 741.0,698.0 745.0,703.0 749.0,689.0 754.0,684.0 760.0,686.0 764.0,699.0 767.6,714.4 771.6,709.6 780.0,712.0 785.0,714.4 788.0,707.0 792.0,704.4 797.0,704.4 801.0,710.0 802.4,715.0 805.0,709.0 810.0,705.6 815.0,711.0 819.0,712.6 822.0,710.6 825.6,705.0 842.0,704.4 846.0,711.0 850.0,708.0 855.0,708.0 862.0,712.0 868.0,717.0 873.0,717.0 876.0,711.0 878.0,708.0 882.0,692.4 886.0,690.6 891.0,697.0 895.0,698.4 904.0,695.0 908.0,698.0 912.0,681.0 915.0,683.6 919.0,685.0 923.0,693.6 926.0,693.0 927.0,685.0 931.0,673.0 936.0,672.0 939.6,689.0 944.0,672.0 947.0,672.4 952.0,676.0 956.0,683.0 958.0,681.0 961.0,668.4 964.0,667.0 967.0,668.4 970.0,683.0 973.0,685.0 978.0,681.0 982.0,679.4 986.0,681.0 991.0,684.4" fill="none" stroke="#008000" stroke-opacity="0.5" stroke-width="4.17" stroke-linejoin="round" stroke-linecap="butt"/>
<rect x="88.5" y="570.5" width="979.0" height="350.0" fill="none" stroke="#000" stroke-width="1.3"/>
<text x="83.30" y="939.70" font-size="17.09" textLength="9.18" lengthAdjust="spacingAndGlyphs">0</text>
<text x="57.80" y="574.90" font-size="17.09" textLength="24.44" lengthAdjust="spacingAndGlyphs">5.0</text>
<text x="241.10" y="939.70" font-size="17.09" textLength="19.15" lengthAdjust="spacingAndGlyphs">10</text>
<text x="58.36" y="633.23" font-size="17.09" textLength="24.44" lengthAdjust="spacingAndGlyphs">5.2</text>
<text x="404.57" y="939.70" font-size="17.09" textLength="19.15" lengthAdjust="spacingAndGlyphs">20</text>
<text x="57.62" y="691.57" font-size="17.09" textLength="24.44" lengthAdjust="spacingAndGlyphs">5.4</text>
<text x="567.71" y="939.70" font-size="17.09" textLength="19.15" lengthAdjust="spacingAndGlyphs">30</text>
<text x="57.74" y="749.90" font-size="17.09" textLength="24.44" lengthAdjust="spacingAndGlyphs">5.6</text>
<text x="731.11" y="939.70" font-size="17.09" textLength="19.15" lengthAdjust="spacingAndGlyphs">40</text>
<text x="57.83" y="808.23" font-size="17.09" textLength="24.44" lengthAdjust="spacingAndGlyphs">5.8</text>
<text x="894.04" y="939.70" font-size="17.09" textLength="19.15" lengthAdjust="spacingAndGlyphs">50</text>
<text x="57.80" y="866.57" font-size="17.09" textLength="24.44" lengthAdjust="spacingAndGlyphs">6.0</text>
<text x="1057.27" y="939.70" font-size="17.09" textLength="19.15" lengthAdjust="spacingAndGlyphs">60</text>
<text x="58.36" y="924.90" font-size="17.09" textLength="24.44" lengthAdjust="spacingAndGlyphs">6.2</text>
<path d="M88.5 920.5v-6M88.5 570.5v6M88.5 570.5h6M1067.5 570.5h-6M251.5 920.5v-6M251.5 570.5v6M88.5 628.5h6M1067.5 628.5h-6M414.5 920.5v-6M414.5 570.5v6M88.5 687.5h6M1067.5 687.5h-6M578.5 920.5v-6M578.5 570.5v6M88.5 745.5h6M1067.5 745.5h-6M741.5 920.5v-6M741.5 570.5v6M88.5 803.5h6M1067.5 803.5h-6M904.5 920.5v-6M904.5 570.5v6M88.5 862.5h6M1067.5 862.5h-6M1067.5 920.5v-6M1067.5 570.5v6M88.5 920.5h6M1067.5 920.5h-6" stroke="#000" stroke-width="0.7" fill="none"/>
<text y="963.50" font-size="17.42"><tspan x="489.51" textLength="46.20" lengthAdjust="spacingAndGlyphs">radial</tspan> <tspan x="541.79" textLength="69.65" lengthAdjust="spacingAndGlyphs">distance</tspan> <tspan x="617.52" textLength="47.22" lengthAdjust="spacingAndGlyphs">(mas)</tspan></text>
<g transform="translate(42.8,774.4) rotate(-90)">
<text x="0.00" y="0.00" font-size="17.60" textLength="43.60" lengthAdjust="spacingAndGlyphs" class="se">ΔMag</text>
<text x="39.60" y="4.80" font-size="12.20" textLength="5.80" lengthAdjust="spacingAndGlyphs" class="se">3</text>
<text x="47.00" y="4.80" font-size="13.00" textLength="10.00" lengthAdjust="spacingAndGlyphs" class="se" font-style="italic">σ</text>
</g>
<rect x="466.5" y="580.5" width="223" height="64" fill="#fff" stroke="#000" stroke-width="1.3"/>
<path d="M478 595.7H510.4" stroke="#0000ff" stroke-opacity="0.5" stroke-width="4.17"/>
<path d="M478 624.8H510.4" stroke="#008000" stroke-opacity="0.5" stroke-width="4.17"/>
<text y="602.80" font-size="20.80"><tspan x="530.54" textLength="47.11" lengthAdjust="spacingAndGlyphs">Absil</tspan> <tspan x="584.81" textLength="59.26" lengthAdjust="spacingAndGlyphs">(99%)</tspan></text>
<text y="631.70" font-size="20.91"><tspan x="529.40" textLength="85.67" lengthAdjust="spacingAndGlyphs">injection</tspan> <tspan x="622.30" textLength="60.01" lengthAdjust="spacingAndGlyphs">(99%)</tspan></text>
</svg></body></html>
